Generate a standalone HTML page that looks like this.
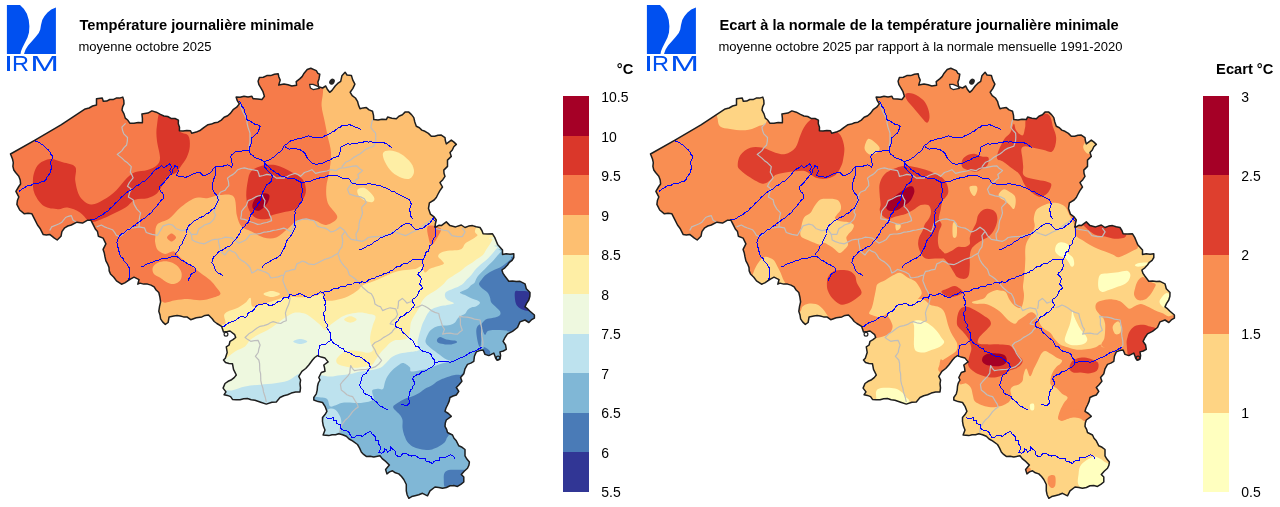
<!DOCTYPE html>
<html lang="fr"><head><meta charset="utf-8"><title>IRM - Température journalière minimale</title>
<style>
html,body{margin:0;padding:0;background:#fff;}
body{width:1280px;height:507px;overflow:hidden;font-family:"Liberation Sans",sans-serif;}
svg{display:block;font-family:"Liberation Sans",sans-serif;}
</style></head><body>
<svg width="1280" height="507" viewBox="0 0 1280 507">
<defs>
<path id="belo" d="M10.5,154.0 L35.0,140.2 L61.4,124.7 L85.2,108.9 L85.2,108.9 L89.1,108.0 L92.6,106.0 L96.5,105.1 L96.5,98.8 L102.3,98.1 L103.3,101.3 L106.7,101.1 L109.7,99.5 L113.1,99.6 L116.2,98.1 L119.6,98.1 L122.8,97.1 L123.8,100.4 L124.0,103.9 L122.6,106.9 L122.0,110.1 L124.0,113.9 L125.3,118.1 L127.9,120.3 L129.8,123.2 L134.0,123.3 L138.2,122.5 L142.4,122.7 L142.4,118.3 L141.9,113.9 L147.9,113.1 L151.9,110.9 L156.3,112.2 L160.4,114.4 L163.9,116.0 L167.7,116.5 L171.0,118.4 L175.0,118.5 L178.4,120.2 L178.3,123.7 L179.5,127.2 L179.4,130.7 L183.1,131.0 L186.8,130.5 L190.5,130.7 L191.7,133.2 L196.2,132.1 L200.5,130.2 L204.1,127.3 L208.0,124.7 L211.4,124.1 L214.6,122.7 L218.0,122.2 L221.3,120.1 L224.1,117.3 L227.7,115.7 L230.6,113.1 L233.1,109.7 L236.7,107.2 L239.3,103.9 L237.3,100.7 L236.1,97.1 L240.1,97.3 L244.0,96.3 L248.0,96.9 L251.9,96.3 L253.1,98.8 L257.5,98.9 L261.9,99.6 L264.4,96.3 L263.0,91.7 L260.7,87.6 L258.9,84.7 L258.1,81.3 L259.4,77.5 L263.3,77.2 L266.8,75.6 L270.7,75.6 L274.4,74.2 L278.2,73.8 L278.9,77.0 L280.2,80.1 L278.7,85.1 L284.0,84.0 L288.0,84.8 L291.8,86.0 L296.6,85.2 L296.2,81.7 L299.7,78.9 L302.1,76.6 L303.7,73.8 L307.2,69.5 L310.8,68.3 L316.3,70.6 L317.9,73.4 L319.8,74.2 L319.0,78.9 L317.9,82.1 L318.6,86.8 L322.6,88.0 L325.7,86.0 L327.3,89.2 L329.7,92.3 L332.0,90.4 L335.2,86.0 L337.7,83.4 L340.7,81.3 L341.9,75.8 L345.1,72.2 L347.0,75.0 L351.4,75.4 L352.7,79.9 L354.9,84.1 L352.9,88.4 L350.2,92.3 L352.2,95.6 L355.4,98.0 L357.5,101.3 L358.5,105.1 L360.0,108.8 L363.1,107.9 L366.3,107.6 L369.1,109.9 L372.5,111.3 L373.5,115.4 L373.8,119.6 L378.0,120.1 L382.1,119.2 L386.3,119.6 L387.6,117.1 L391.9,118.2 L396.3,118.8 L398.9,116.2 L402.4,114.7 L405.0,112.1 L408.8,112.1 L411.5,114.6 L413.8,117.6 L414.8,122.0 L416.3,126.3 L419.4,127.7 L421.8,130.1 L425.0,131.3 L428.4,133.4 L431.3,136.3 L434.7,136.2 L437.9,135.2 L441.3,135.1 L445.0,137.6 L445.4,140.8 L446.3,143.9 L451.3,140.1 L454.0,142.1 L456.3,144.4 L453.8,146.8 L452.3,150.0 L450.0,152.6 L451.3,156.4 L447.5,160.1 L447.5,166.4 L443.8,170.1 L444.0,173.3 L445.0,176.4 L442.8,179.7 L440.0,182.6 L442.5,187.0 L439.9,190.6 L437.8,194.5 L436.3,197.5 L434.1,200.0 L429.4,202.8 L428.5,208.4 L430.4,214.1 L434.1,216.9 L436.3,220.0 L435.4,223.7 L435.0,227.5 L438.8,225.3 L441.3,225.6 L446.3,221.9 L450.0,225.6 L455.6,226.9 L461.3,225.0 L465.0,227.5 L468.6,226.1 L472.5,225.6 L476.2,226.8 L480.0,227.5 L481.9,230.5 L483.1,233.8 L487.8,234.1 L492.5,233.8 L494.7,237.4 L496.3,241.3 L497.6,244.4 L499.8,246.9 L502.5,250.0 L502.5,254.4 L506.2,253.7 L510.1,254.3 L513.8,253.8 L513.8,257.5 L512.1,260.3 L509.4,262.3 L507.5,265.0 L504.9,267.8 L501.9,270.0 L503.0,273.4 L505.0,276.3 L508.8,281.3 L512.5,280.9 L516.3,281.6 L520.0,281.3 L525.0,283.8 L526.3,288.8 L530.0,292.5 L529.9,296.3 L528.8,300.0 L526.6,303.3 L525.0,306.9 L527.7,308.9 L530.0,311.3 L534.4,315.0 L534.4,318.1 L531.3,319.9 L528.8,322.5 L525.0,320.0 L520.0,321.9 L517.5,327.5 L512.5,331.3 L507.5,333.8 L505.0,337.5 L503.1,341.3 L505.6,345.0 L506.3,349.4 L503.3,351.0 L500.0,351.9 L500.6,355.6 L500.0,359.0 L497.0,360.2 L495.6,358.0 L495.0,356.3 L493.8,353.1 L488.8,355.6 L485.0,354.4 L483.1,350.0 L479.6,350.6 L476.3,351.9 L474.4,356.3 L473.8,361.3 L470.8,363.1 L467.5,364.4 L465.0,368.8 L463.8,373.8 L460.6,377.5 L461.9,381.3 L458.8,385.0 L456.3,387.5 L458.8,391.3 L456.3,395.0 L453.1,396.0 L450.0,397.5 L449.1,401.4 L447.5,405.0 L446.0,408.0 L445.0,411.3 L448.4,413.5 L451.3,416.3 L446.3,420.0 L445.3,423.1 L445.0,426.3 L446.6,429.3 L447.5,432.5 L452.5,435.0 L454.0,438.2 L456.3,440.8 L458.8,445.8 L462.1,447.3 L465.0,449.5 L465.0,455.8 L466.9,459.1 L469.4,462.0 L468.9,465.3 L467.5,468.3 L464.2,471.2 L461.3,474.5 L463.8,477.0 L463.8,482.0 L460.8,484.4 L457.5,486.4 L453.8,485.6 L450.0,485.8 L446.4,487.5 L442.5,488.3 L438.8,487.4 L435.0,487.0 L430.0,490.8 L427.5,495.8 L422.5,493.3 L418.8,494.8 L415.0,495.8 L411.7,496.6 L408.8,498.3 L407.1,494.7 L406.3,490.8 L406.3,484.5 L403.8,479.5 L401.5,476.5 L398.8,473.9 L395.4,472.8 L392.5,470.8 L389.5,471.9 L386.9,473.9 L385.6,469.5 L389.4,465.1 L385.0,460.8 L382.2,458.6 L380.0,455.8 L373.8,457.0 L370.1,456.3 L366.3,456.4 L363.6,454.4 L361.3,452.0 L359.6,448.1 L357.5,444.5 L352.5,440.8 L349.1,439.0 L346.3,436.3 L342.6,434.8 L338.8,433.8 L335.5,434.8 L332.1,434.7 L328.8,435.6 L323.1,435.0 L325.0,430.0 L323.3,425.8 L322.5,421.3 L322.5,417.5 L325.0,414.6 L326.9,411.3 L325.0,406.3 L322.5,402.5 L318.1,401.6 L313.8,400.0 L313.8,397.5 L316.3,393.8 L317.2,390.1 L317.5,386.3 L318.3,383.0 L320.0,380.0 L318.8,377.5 L321.3,372.5 L325.0,371.3 L324.6,368.1 L323.8,365.0 L328.1,361.9 L325.0,358.1 L321.2,357.1 L317.5,355.6 L314.7,357.5 L312.5,360.0 L308.8,365.0 L305.7,368.5 L301.9,371.3 L298.8,376.3 L300.6,380.0 L300.0,383.9 L300.5,387.9 L300.0,391.9 L295.6,392.0 L291.3,393.1 L287.6,394.8 L283.7,395.8 L280.0,397.5 L276.3,401.9 L271.9,402.2 L266.3,404.1 L260.7,402.2 L255.0,400.3 L251.2,399.7 L247.5,398.5 L243.7,398.8 L240.0,399.8 L236.2,399.8 L232.5,399.4 L230.6,396.6 L227.4,395.4 L224.1,394.7 L226.0,391.9 L223.1,388.1 L225.0,383.5 L228.1,381.3 L231.6,379.7 L234.2,377.6 L236.3,375.0 L233.5,369.4 L232.5,363.8 L229.0,363.4 L225.5,362.5 L223.5,360.0 L225.3,358.2 L227.2,352.5 L226.3,346.9 L229.1,345.0 L230.0,341.3 L233.0,339.7 L235.7,337.5 L234.7,334.7 L230.0,331.0 L227.5,331.5 L223.5,331.9 L221.6,326.3 L216.9,323.5 L214.2,321.5 L212.2,318.8 L208.5,315.0 L205.1,315.4 L201.9,316.9 L196.3,317.8 L190.7,319.7 L186.9,316.9 L183.5,316.9 L180.3,316.0 L177.1,315.6 L173.8,316.0 L169.1,316.9 L168.1,322.5 L165.3,324.4 L162.6,321.9 L160.6,318.8 L160.0,315.0 L158.8,311.3 L159.5,306.6 L160.6,301.9 L159.9,297.2 L158.8,292.5 L156.1,290.0 L154.1,286.9 L151.0,285.1 L147.5,284.1 L143.7,284.1 L140.0,283.1 L137.8,284.2 L139.0,279.7 L134.0,277.2 L130.8,278.9 L127.8,280.9 L124.8,282.9 L121.5,284.2 L116.5,280.9 L113.8,277.2 L110.5,274.0 L109.2,270.9 L109.0,267.5 L107.8,264.4 L105.9,260.8 L105.0,256.9 L104.3,253.1 L103.1,249.4 L105.9,243.8 L103.1,238.1 L98.4,236.3 L97.5,231.6 L95.3,229.0 L93.8,225.9 L91.0,220.3 L87.2,220.3 L82.5,223.1 L76.9,222.2 L71.3,225.0 L67.8,226.0 L64.7,227.8 L61.9,231.6 L61.0,236.3 L57.2,240.0 L54.4,238.1 L49.7,234.4 L46.4,234.9 L43.1,234.4 L40.3,228.8 L37.5,225.0 L34.7,219.4 L31.9,213.8 L28.1,213.3 L24.4,213.8 L19.7,210.0 L16.9,204.4 L17.4,200.5 L18.8,196.9 L15.9,191.3 L18.8,186.5 L20.6,184.0 L20.2,180.0 L18.8,176.3 L15.6,172.5 L13.8,170.0 L12.9,166.4 L13.3,162.6 L12.5,159.0Z"/>
<clipPath id="bel"><use href="#belo"/></clipPath>
<g id="lines">
<path d="M125.6,123.4 L121.9,127.2 L122.6,130.6 L123.8,133.8 L127.5,137.5 L127.3,141.3 L126.6,145.0 L124.0,147.6 L121.9,150.6 L119.7,152.6 L117.2,154.4 L121.9,158.1 L124.5,160.7 L127.5,162.8 L131.3,166.6 L130.3,172.2 L131.9,174.9 L133.1,177.8 L129.4,182.5 L127.5,186.3 L131.3,189.1 L129.4,193.1 L128.4,196.9 L133.1,199.7 L134.1,204.4 L136.9,209.1 L140.6,212.8 L139.7,216.6 L139.2,220.0 L139.4,223.5 L138.8,226.9" fill="none" stroke="#bebebe" stroke-width="1.2" stroke-linejoin="round"/>
<path d="M49.7,230.6 L51.6,226.9 L56.3,225.0 L59.2,223.8 L61.9,222.2 L65.6,217.5 L68.4,216.3 L71.3,215.6 L73.1,220.3 L76.9,222.2" fill="none" stroke="#bebebe" stroke-width="1.2" stroke-linejoin="round"/>
<path d="M96.6,226.9 L101.3,225.0 L104.0,226.6 L106.9,227.8 L112.5,229.7 L114.6,232.4 L116.3,235.3 L120.0,236.3 L123.0,234.2 L125.6,231.6 L128.3,229.5 L131.3,227.8 L135.1,227.7 L138.8,226.9 L144.4,227.8 L146.3,232.5 L151.9,234.4 L157.5,235.3 L160.3,230.6 L163.1,225.9 L168.8,224.1 L172.5,225.0 L176.3,228.8 L181.9,230.6 L187.5,229.7 L189.6,231.9 L191.3,234.4 L196.9,234.4 L198.8,228.8 L201.7,227.1 L204.4,225.0 L210.0,223.1 L213.8,219.4 L215.6,214.7 L213.8,211.9" fill="none" stroke="#bebebe" stroke-width="1.2" stroke-linejoin="round"/>
<path d="M191.3,234.4 L192.2,240.0 L195.4,241.6 L198.8,242.8 L204.4,243.8 L208.1,241.9 L211.9,240.0 L215.1,239.3 L218.4,239.1 L221.8,238.5 L225.0,237.2 L228.8,237.5 L232.5,238.1 L235.0,240.3 L238.8,243.1 L242.7,241.5 L246.3,239.4 L250.0,234.7 L253.7,234.0 L257.5,233.8 L260.7,233.4 L263.7,232.2 L266.9,231.9 L270.1,231.4 L273.1,230.4 L276.3,230.0 L280.1,229.2 L283.8,228.1 L287.6,229.8 L291.3,231.9 L293.0,227.7 L294.1,223.4 L298.8,220.6 L302.5,219.3 L306.3,218.8 L310.0,219.9 L313.8,220.6 L315.8,223.3 L317.5,226.3 L321.2,227.5 L325.0,228.1 L328.0,229.7 L330.6,231.9 L333.6,231.3 L336.3,230.0 L340.0,227.2 L343.8,230.0 L345.9,232.6 L347.5,235.6 L351.3,239.4 L356.9,240.3 L362.5,241.3 L365.5,239.7 L368.1,237.5 L371.8,236.9 L375.6,236.6 L379.4,236.5 L383.1,235.6 L388.8,234.7 L391.5,232.6 L394.4,231.0 L397.1,232.6 L400.0,233.8 L405.6,235.6 L409.4,233.8 L412.1,232.2 L415.0,231.0 L418.9,228.9 L422.5,226.3 L425.1,224.1 L428.1,222.5 L431.9,218.8" fill="none" stroke="#bebebe" stroke-width="1.2" stroke-linejoin="round"/>
<path d="M218.4,239.1 L218.6,242.4 L219.4,245.6 L220.3,251.3 L225.0,255.0 L227.0,252.2 L229.4,249.7 L232.1,251.4 L235.0,252.5 L237.1,255.2 L238.8,258.1 L241.4,260.3 L244.4,261.9 L247.4,264.5 L250.0,267.5 L251.9,273.1 L254.8,271.4 L257.5,269.4 L263.1,271.3 L266.1,272.4 L268.8,274.1 L270.6,277.8 L274.4,277.5 L278.1,276.9 L280.9,275.7 L283.8,275.0 L285.6,271.3 L288.8,270.9 L291.8,269.8 L295.0,269.4 L296.9,263.8 L299.8,262.6 L302.5,261.0 L305.5,262.1 L308.1,263.8 L313.8,264.7 L317.6,263.0 L321.3,261.0 L325.0,259.3 L328.8,258.1 L331.7,257.0 L334.4,255.3 L338.1,253.4 L339.6,249.9 L341.9,246.9 L342.8,241.3 L341.9,235.6 L344.7,231.9" fill="none" stroke="#bebebe" stroke-width="1.2" stroke-linejoin="round"/>
<path d="M213.8,211.9 L215.1,209.0 L215.7,205.9 L217.0,203.0 L218.0,199.5 L218.4,195.9 L220.3,192.2 L225.0,190.3 L226.8,187.8 L228.8,185.6 L228.5,181.8 L227.5,178.1 L230.2,176.0 L233.1,174.4 L235.6,172.2 L237.8,169.7 L241.0,168.5 L244.4,167.8 L248.1,168.9 L251.9,169.7 L257.5,170.6 L258.7,173.4 L259.4,176.3 L263.2,175.5 L266.9,174.4 L272.5,175.3 L276.3,178.1 L280.1,177.9 L283.8,178.1 L286.7,176.9 L289.4,175.3 L295.0,173.4 L298.0,174.5 L300.6,176.3 L304.4,172.5 L308.2,171.3 L311.9,169.7 L315.6,173.4 L319.3,172.3 L323.1,171.6 L326.9,171.0 L330.6,169.7 L336.3,170.6 L338.9,168.8 L341.9,167.8 L345.7,167.7 L349.4,166.9 L353.1,166.1 L356.9,165.9 L359.4,168.6 L362.5,170.6 L360.3,172.6 L357.8,174.4 L358.8,178.1 L356.1,179.7 L353.9,182.1 L351.3,183.8 L349.2,186.5 L347.5,189.4 L349.4,194.1 L355.0,195.9 L360.6,196.9 L364.4,198.8 L366.3,202.5 L362.5,206.3 L361.6,207.5 L362.5,213.1 L361.3,216.9 L359.7,220.6 L359.0,224.3 L358.8,228.1 L357.7,231.1 L356.0,233.8 L356.2,237.1 L356.9,240.3" fill="none" stroke="#bebebe" stroke-width="1.2" stroke-linejoin="round"/>
<path d="M240.0,104.0 L241.3,108.1 L243.0,112.0 L245.1,115.9 L246.9,120.0 L247.2,123.8 L248.1,127.5 L250.0,133.1 L250.0,138.8 L249.9,142.5 L249.1,146.2 L249.1,150.0" fill="none" stroke="#bebebe" stroke-width="1.2" stroke-linejoin="round"/>
<path d="M373.0,119.5 L371.9,122.0 L370.9,127.5 L373.1,130.5 L375.6,133.1 L375.8,136.8 L375.6,140.6 L373.8,146.3 L368.1,148.1 L365.1,149.7 L362.5,151.9 L359.8,153.9 L356.9,155.6 L353.9,157.2 L351.3,159.4 L348.6,161.0 L345.6,162.2 L341.9,166.9" fill="none" stroke="#bebebe" stroke-width="1.2" stroke-linejoin="round"/>
<path d="M240.6,218.8 L241.4,215.1 L241.6,211.3 L243.8,208.3 L246.3,205.6 L248.1,200.6 L252.0,199.0 L255.6,196.9 L258.8,195.8 L262.2,195.0 L263.3,197.9 L265.0,200.6 L264.1,206.3 L266.7,208.9 L268.8,211.9 L269.6,214.9 L271.0,217.6 L271.6,220.6 L266.9,222.5 L263.7,223.0 L260.7,224.0 L257.5,224.4 L254.4,223.0 L251.2,222.0 L248.1,220.6 L244.4,219.4 L240.6,218.8" fill="none" stroke="#bebebe" stroke-width="1.2" stroke-linejoin="round"/>
<path d="M283.8,275.0 L282.8,280.6 L284.5,285.0 L286.1,288.9 L288.2,292.5 L290.1,298.1 L289.4,301.9 L288.2,305.6 L286.5,309.3 L285.4,313.2 L286.0,316.9 L286.3,320.7 L283.4,321.8 L280.7,323.5 L276.9,322.8 L273.2,321.6 L270.3,322.8 L267.6,324.4 L263.9,325.6 L260.1,326.3 L257.1,328.0 L254.4,330.0 L251.8,332.1 L248.8,333.8 L245.1,337.5 L247.8,339.6 L250.7,341.3 L254.4,340.7 L258.2,340.4 L260.1,345.0 L258.9,348.7 L258.2,352.5 L255.4,356.3 L258.8,360.0 L259.6,363.7 L259.7,367.5 L259.8,370.7 L260.6,373.7 L260.7,376.9 L260.8,380.7 L261.6,384.4 L262.9,388.1 L263.5,391.9 L265.3,397.5 L266.3,402.2" fill="none" stroke="#bebebe" stroke-width="1.2" stroke-linejoin="round"/>
<path d="M338.1,254.4 L340.0,260.0 L341.7,262.9 L343.8,265.6 L347.5,269.4 L349.4,275.0 L352.3,276.7 L355.0,278.8 L358.8,282.5 L362.5,287.2 L365.7,290.0 L368.3,292.2 L371.3,293.8 L372.9,296.5 L374.1,299.4 L375.0,304.1 L377.7,305.8 L380.7,306.9 L382.6,310.6 L386.3,309.0 L390.1,307.8 L395.7,308.8 L397.6,314.4 L395.7,318.1 L391.9,321.0 L390.1,323.8 L393.8,324.7" fill="none" stroke="#bebebe" stroke-width="1.2" stroke-linejoin="round"/>
<path d="M397.6,308.8 L398.3,305.1 L398.5,301.3 L402.3,298.4 L404.8,300.6 L406.9,303.1 L409.9,302.0 L412.6,300.3" fill="none" stroke="#bebebe" stroke-width="1.2" stroke-linejoin="round"/>
<path d="M415.4,307.8 L418.8,306.6 L422.0,305.0 L424.9,306.2 L427.6,307.8 L431.3,310.6 L434.9,312.4 L438.8,313.5 L439.8,318.1 L440.9,320.9 L441.7,323.8 L442.8,326.7 L444.5,329.4 L442.6,334.1 L446.3,333.4 L450.1,333.2 L453.8,333.8 L457.6,334.1 L459.8,332.0 L462.3,330.3 L460.4,324.7 L460.4,319.1 L459.5,316.3 L463.2,316.9 L467.0,317.2 L470.8,317.9 L474.5,319.1 L480.1,320.0 L480.7,323.8 L481.6,327.5 L481.9,330.6 L481.6,333.8 L482.0,336.9 L482.8,341.1 L482.9,345.3 L480.1,348.2" fill="none" stroke="#bebebe" stroke-width="1.2" stroke-linejoin="round"/>
<path d="M395.7,327.5 L393.6,329.7 L391.9,332.2 L389.2,334.3 L386.3,336.0 L383.3,337.6 L380.7,339.7 L377.9,341.3 L375.0,342.5 L372.2,345.3 L375.0,350.0 L376.2,353.0 L377.9,355.7 L381.6,360.3 L378.8,364.1 L375.0,366.9 L369.4,368.8 L365.7,369.5 L361.9,369.7 L358.1,370.0 L354.4,370.7 L352.3,368.3 L350.7,365.6 L350.1,369.3 L349.8,373.1 L347.7,376.1 L345.1,378.8 L342.6,381.5 L340.4,384.4 L341.3,390.0 L344.2,392.2 L346.9,394.7 L349.7,395.9 L352.6,396.6 L355.4,401.3 L357.1,403.9 L358.2,406.9 L355.3,409.1 L352.6,411.6 L350.5,414.7 L348.1,417.6 L345.6,419.7 L343.5,422.3 L340.6,427.0 L339.7,432.6" fill="none" stroke="#bebebe" stroke-width="1.2" stroke-linejoin="round"/>
<path d="M435.0,228.1 L438.7,229.3 L442.6,230.0 L448.2,231.0 L451.9,235.6 L457.6,236.6 L462.3,236.6 L465.1,231.9 L462.3,228.1" fill="none" stroke="#bebebe" stroke-width="1.2" stroke-linejoin="round"/>
<path d="M34.7,140.3 L36.6,141.8 L39.1,142.3 L40.9,144.1 L43.1,145.0 L44.9,146.5 L46.2,148.5 L48.2,149.8 L49.7,151.6 L50.8,154.1 L52.5,156.3 L52.1,158.9 L51.0,161.2 L50.6,163.8 L51.4,166.1 L51.6,168.5 L50.3,170.5 L50.0,173.0 L48.8,175.0 L47.0,177.1 L46.0,179.6 L44.1,181.6 L41.2,181.9 L38.5,183.1 L35.6,183.5 L33.2,183.8 L31.1,185.3 L28.5,185.2 L26.3,186.3 L24.6,187.9 L22.4,188.6 L20.9,190.3 L18.8,191.3" fill="none" stroke="#0000ff" stroke-width="1" shape-rendering="crispEdges"/>
<path d="M87.2,220.3 L89.4,220.2 L91.5,219.3 L93.8,219.4 L96.5,218.5 L98.7,216.7 L101.3,215.6 L103.4,214.4 L104.9,212.6 L107.1,211.7 L108.8,210.0 L110.4,207.9 L112.7,206.4 L114.4,204.4 L116.1,202.4 L118.4,200.9 L120.0,198.8 L121.7,196.7 L124.0,195.3 L125.6,193.1 L128.4,191.4 L131.3,190.0 L133.3,188.8 L135.0,187.2 L136.7,185.6 L138.9,184.9 L140.6,183.4 L142.3,181.8 L144.6,181.3 L146.3,179.7 L148.0,177.7 L150.0,175.9 L151.5,174.2 L152.8,172.2 L155.6,169.4 L159.4,167.5 L161.3,165.6 L164.1,167.9 L166.9,165.6 L169.7,163.8 L171.6,166.6 L169.7,170.3 L171.6,174.1" fill="none" stroke="#0000ff" stroke-width="1" shape-rendering="crispEdges"/>
<path d="M127.6,281.0 L129.2,278.2 L130.0,275.0 L129.4,272.7 L129.8,270.4 L129.4,268.1 L128.0,266.3 L127.2,264.2 L125.6,262.5 L123.9,260.8 L123.1,258.5 L121.2,257.0 L120.0,255.0 L119.6,252.6 L118.3,250.4 L118.2,247.9 L117.2,245.6 L117.0,242.8 L117.2,240.0 L118.8,237.8 L120.0,235.3 L121.7,233.8 L123.9,233.1 L125.6,231.6 L127.3,230.0 L129.6,229.4 L131.3,227.8 L133.0,226.2 L135.2,225.2 L136.8,223.4 L138.8,222.2 L140.8,220.9 L142.4,219.3 L144.6,218.2 L146.3,216.6 L148.0,214.8 L150.2,213.7 L151.9,211.9 L153.4,209.3 L155.6,207.2 L157.7,205.0 L159.4,202.5 L161.0,200.4 L163.1,198.8 L164.1,195.0 L162.4,193.0 L160.3,191.3 L159.7,189.0 L159.4,186.6 L161.9,184.7 L164.1,182.5 L165.3,180.5 L166.9,178.8 L168.5,177.1 L169.7,175.0 L171.6,174.1" fill="none" stroke="#0000ff" stroke-width="1" shape-rendering="crispEdges"/>
<path d="M171.6,174.1 L172.5,172.0 L172.7,169.8 L174.0,167.8 L174.4,165.6 L177.2,166.6 L178.0,169.3 L178.1,172.2 L176.3,175.0 L178.5,176.3 L181.0,176.9 L183.3,176.9 L185.6,177.3 L188.5,176.3 L191.3,175.0 L193.5,173.7 L195.9,173.1 L199.7,172.2 L202.5,175.0 L206.3,175.0 L210.0,173.1 L211.6,171.4 L212.8,169.4 L215.6,166.6 L217.9,166.1 L220.3,166.0 L222.7,166.2 L225.0,165.6 L227.8,164.7 L229.9,165.9 L231.6,167.5 L232.3,165.4 L232.2,163.1 L231.3,161.0 L231.3,158.7 L230.3,156.6 L231.7,154.9 L233.7,153.7 L235.0,151.9 L237.4,151.2 L240.0,151.5 L242.5,150.9 L244.7,150.2 L246.9,150.6 L249.1,150.0 L249.8,147.1 L250.9,144.4 L251.6,142.3 L251.3,140.0 L251.9,137.8 L253.9,136.4 L255.5,134.5 L257.5,133.1 L258.8,131.1 L259.1,128.7 L260.3,126.6 L258.0,125.0 L255.1,124.4 L252.8,122.8 L250.2,121.1 L247.2,120.0 L246.1,117.6 L246.1,115.0 L244.7,112.7 L244.4,110.1 L243.4,107.8 L241.5,106.0 L240.9,103.4 L239.3,101.4" fill="none" stroke="#0000ff" stroke-width="1" shape-rendering="crispEdges"/>
<path d="M215.6,167.5 L215.4,169.8 L215.6,172.2 L215.3,174.6 L214.7,176.9 L213.5,179.6 L212.8,182.5 L212.6,185.3 L211.9,188.1 L213.8,191.3 L214.9,193.3 L216.5,194.9 L217.5,196.9 L218.4,200.6 L216.6,203.3 L215.6,206.3 L214.0,208.4 L211.6,209.8 L210.0,211.9 L208.2,213.3 L206.1,214.0 L204.5,215.6 L202.5,216.6 L199.9,217.6 L197.6,219.2 L195.0,220.3 L193.0,221.7 L191.5,223.7 L189.4,225.0 L187.7,227.6 L186.6,230.6 L186.5,233.5 L185.6,236.3 L183.9,238.9 L182.8,241.9 L181.8,244.2 L180.1,246.1 L179.1,248.4 L178.1,250.8 L176.3,252.6 L175.3,255.0" fill="none" stroke="#0000ff" stroke-width="1" shape-rendering="crispEdges"/>
<path d="M140.6,267.2 L143.6,266.1 L146.3,264.4 L148.7,263.1 L151.4,262.9 L153.8,261.6 L156.2,260.3 L158.9,260.1 L161.3,258.8 L163.7,258.1 L166.3,258.3 L168.8,257.8 L170.9,256.9 L173.2,257.0 L175.3,256.0 L177.8,257.1 L180.0,258.8 L181.6,260.4 L183.8,261.1 L185.6,262.5 L188.3,264.2 L191.3,265.3 L193.7,267.0 L195.9,269.0 L195.0,271.9 L192.7,273.0 L190.7,274.7 L190.0,277.0 L188.6,279.0 L187.8,281.3" fill="none" stroke="#0000ff" stroke-width="1" shape-rendering="crispEdges"/>
<path d="M249.1,150.0 L249.7,152.5 L251.0,154.7 L253.1,155.6 L254.6,157.4 L256.6,158.4 L259.5,159.1 L262.2,160.3 L265.0,162.2 L264.4,164.5 L264.1,166.9 L265.9,168.2 L267.0,170.2 L268.8,171.6 L270.9,173.7 L272.5,176.3 L271.8,178.5 L271.6,180.9 L269.5,183.1 L266.9,184.7 L265.4,186.8 L264.7,189.3 L263.1,191.3 L261.9,194.0 L261.3,196.9 L260.3,200.0 L259.4,202.0 L257.7,203.6 L257.1,205.8 L255.6,207.5 L254.0,209.7 L253.1,212.4 L251.1,214.4 L250.0,216.9 L249.3,219.8 L248.1,222.5 L246.0,224.1 L244.6,226.5 L242.5,228.1 L240.9,230.1 L240.3,232.6 L238.8,234.7 L237.4,236.5 L236.6,238.6 L235.0,240.3 L232.9,242.4 L231.3,245.0 L229.3,246.4 L227.0,247.1 L225.0,248.4 L222.9,249.9 L220.4,250.6 L218.4,252.2 L216.3,254.7 L213.8,256.9 L212.5,259.6 L211.9,262.5 L213.6,265.2 L214.7,268.1 L215.9,270.6 L217.5,272.8 L220.2,273.9 L222.5,275.6" fill="none" stroke="#0000ff" stroke-width="1" shape-rendering="crispEdges"/>
<path d="M265.0,161.3 L267.9,160.6 L270.6,159.4 L272.4,157.7 L274.6,156.5 L276.3,154.7 L278.0,153.0 L280.2,151.8 L281.9,150.0 L283.1,147.5 L284.7,145.3 L287.0,143.9 L288.9,141.9 L291.3,140.6 L293.8,140.2 L296.2,139.1 L298.8,138.8 L301.2,138.3 L303.4,137.2 L305.9,136.9 L308.1,135.9 L310.7,136.2 L313.0,137.4 L315.6,137.8 L318.1,137.3 L320.6,137.5 L323.1,136.9 L325.4,135.3 L328.2,134.6 L330.6,133.1 L332.4,131.6 L334.6,131.0 L336.3,129.4 L338.1,128.0 L340.2,127.2 L341.9,125.6 L344.4,125.1 L346.9,125.2 L349.4,124.7 L352.0,125.4 L354.3,126.8 L356.9,127.5 L359.4,128.6 L361.6,130.3" fill="none" stroke="#0000ff" stroke-width="1" shape-rendering="crispEdges"/>
<path d="M284.7,146.3 L286.9,147.9 L289.4,149.1 L292.1,148.2 L295.0,148.1 L297.7,149.2 L300.6,150.0 L303.2,151.6 L305.3,153.8 L306.5,156.7 L308.1,159.4 L310.2,161.1 L311.9,163.1 L314.6,164.0 L317.5,164.1 L319.9,163.2 L322.6,163.2 L325.0,162.2 L327.4,160.7 L330.1,159.9 L332.5,158.4 L335.2,157.2 L338.1,156.6 L339.3,154.3 L340.0,151.9 L340.1,149.5 L340.9,147.2 L343.4,146.0 L345.6,144.4 L347.9,143.9 L350.3,144.1 L352.6,143.4 L355.0,143.4 L357.3,143.3 L359.5,142.3 L361.8,142.6 L364.0,141.8 L366.3,141.6 L368.6,142.1 L371.0,141.6 L373.3,142.5 L375.6,142.5 L378.1,142.2 L380.6,142.8 L383.1,142.5 L386.1,143.6 L388.8,145.3 L390.5,146.9 L392.5,148.1" fill="none" stroke="#0000ff" stroke-width="1" shape-rendering="crispEdges"/>
<path d="M265.0,163.1 L266.7,165.2 L268.9,166.7 L270.5,168.9 L272.5,170.6 L274.6,171.4 L276.2,173.1 L278.3,173.9 L280.0,175.3 L282.4,176.6 L285.1,177.0 L287.5,178.1 L290.0,178.7 L292.5,178.4 L295.0,179.1 L297.7,180.7 L300.6,181.9 L301.5,184.3 L301.5,187.0 L302.5,189.4 L302.5,191.9 L301.5,194.4 L301.6,196.9 L302.5,200.0 L301.4,202.0 L299.8,203.6 L298.8,205.6 L297.7,207.6 L296.0,209.2 L295.0,211.3 L295.1,213.8 L294.1,216.3 L294.1,218.8 L294.7,221.1 L294.3,223.5 L295.1,225.7 L295.0,228.1 L293.4,230.9 L292.2,233.8 L290.5,236.3 L288.4,238.4 L286.7,241.1 L285.6,244.1 L285.0,246.6 L283.8,248.8 L282.2,251.5 L281.0,254.4 L278.8,256.4 L276.3,258.1 L273.3,259.3 L270.6,261.0 L267.9,262.6 L265.0,263.8 L263.4,265.5 L262.2,267.5" fill="none" stroke="#0000ff" stroke-width="1" shape-rendering="crispEdges"/>
<path d="M300.6,182.8 L303.1,182.8 L305.6,181.9 L308.1,181.9 L310.7,181.3 L313.0,179.8 L315.6,179.1 L318.2,178.8 L320.5,177.5 L323.1,177.2 L325.7,176.9 L328.0,175.7 L330.6,175.3 L333.5,175.6 L336.3,175.3 L339.2,176.5 L341.9,178.1 L344.4,178.7 L347.0,178.4 L349.4,179.1 L350.9,181.7 L353.1,183.8 L355.6,183.9 L358.1,184.8 L360.6,184.7 L362.9,184.2 L365.3,184.5 L367.6,183.8 L370.0,183.8 L372.3,184.6 L374.8,184.4 L377.0,185.5 L379.4,185.6 L381.9,186.2 L384.0,187.7 L386.6,188.1 L388.8,189.4 L391.1,191.0 L394.0,191.5 L396.3,193.1 L398.7,194.7 L401.4,195.5 L403.8,196.9 L406.5,198.5 L409.4,199.7 L410.5,202.0 L411.3,204.4 L410.1,207.2 L409.7,210.3 L410.4,213.1 L410.7,215.9 L412.5,218.8" fill="none" stroke="#0000ff" stroke-width="1" shape-rendering="crispEdges"/>
<path d="M358.8,249.7 L361.7,249.0 L364.4,247.8 L367.1,246.1 L370.0,245.0 L372.1,244.1 L373.6,242.3 L375.6,241.3 L377.7,240.3 L379.2,238.5 L381.3,237.5 L383.9,236.8 L386.2,235.4 L388.8,234.7 L391.7,233.6 L394.4,231.9 L396.0,230.1 L398.3,228.9 L400.0,227.2 L401.7,225.7 L403.8,224.8 L405.6,223.4 L409.4,223.4 L411.5,225.0 L413.1,227.2 L414.8,228.9 L416.9,230.0 L419.6,228.9 L422.5,228.1 L424.6,227.2 L426.0,225.3 L428.1,224.4 L430.2,222.7 L431.9,220.6 L433.8,216.9" fill="none" stroke="#0000ff" stroke-width="1" shape-rendering="crispEdges"/>
<path d="M433.8,216.9 L433.8,219.5 L435.7,221.7 L435.6,224.4 L434.9,226.8 L436.0,229.1 L435.2,231.5 L435.6,233.8 L435.2,236.5 L433.3,238.6 L432.8,241.3 L432.2,244.1 L429.7,246.0 L429.1,248.8 L428.4,251.0 L426.1,252.2 L425.3,254.4 L424.5,257.5 L422.5,260.0 L420.1,259.3 L417.4,260.0 L415.0,259.1 L412.0,260.1 L409.4,261.9 L407.2,263.6 L404.3,263.4 L401.9,264.7 L399.7,266.6 L396.7,266.8 L394.4,268.4 L392.9,270.2 L390.4,270.3 L389.1,272.4 L386.9,273.1 L384.1,273.3 L382.0,275.3 L379.4,275.9 L376.8,276.5 L374.7,278.6 L371.9,278.8 L369.1,279.5 L367.1,281.6 L364.4,282.5 L362.2,281.6 L359.8,283.1 L357.6,282.2 L355.0,282.4 L352.7,284.0 L350.1,284.1 L347.5,284.6 L345.3,286.4 L342.6,286.9 L339.9,286.9 L337.7,288.6 L335.1,288.8 L332.4,289.1 L330.2,291.0 L327.6,291.6 L325.2,291.6 L322.9,292.5 L324.3,294.8 L323.6,297.6 L324.8,300.0 L325.7,302.4 L324.8,305.1 L325.7,307.5 L325.6,310.1 L323.9,312.4 L323.8,315.0 L324.8,317.4 L324.4,320.2 L325.7,322.5 L327.4,324.7 L326.8,327.8 L328.5,330.0 L330.1,332.6 L330.4,335.7 L330.4,338.2 L331.4,340.4 L327.6,342.2 L326.0,344.0 L323.8,345.0 L321.4,344.8 L319.2,346.0 L319.4,348.5 L318.2,350.7 L318.1,353.7 L318.8,356.6" fill="none" stroke="#0000ff" stroke-width="1" shape-rendering="crispEdges"/>
<path d="M422.5,260.0 L422.5,262.9 L423.4,265.6 L422.5,268.7 L420.6,271.3 L418.7,272.8 L417.8,275.0 L420.2,276.4 L421.6,278.8 L420.3,281.5 L419.7,284.4 L421.4,286.0 L422.5,288.1 L420.1,290.0 L418.4,292.6 L417.3,295.6 L415.2,297.8 L412.6,299.4 L412.9,302.4 L414.4,305.0 L413.5,307.1 L411.5,308.4 L410.7,310.6 L409.1,312.2 L406.7,312.8 L405.1,314.4 L403.5,316.0 L400.9,316.3 L399.4,318.1 L398.0,320.8 L395.7,322.8 L395.7,326.6 L398.4,327.8 L401.3,328.5 L402.3,332.2 L404.9,333.8 L406.9,336.0 L409.0,338.1 L411.6,339.7 L413.6,341.7 L414.4,344.4 L415.9,346.5 L418.6,347.0 L420.1,349.1 L422.6,351.1 L425.7,351.9 L428.8,352.8 L431.3,354.7 L432.1,357.4 L434.1,359.4 L435.1,362.2 L433.8,365.2 L431.4,367.5 L428.7,368.4 L426.7,370.6 L423.9,371.3 L421.2,372.1 L419.2,374.3 L416.4,375.0 L414.1,376.5 L412.6,378.8 L414.0,381.4 L414.5,384.4 L412.9,386.0 L412.4,388.4 L410.7,390.0 L409.7,392.1 L409.8,394.5 L408.8,396.6 L408.7,399.5 L409.8,402.2 L408.3,404.5 L406.0,406.0 L403.8,404.8 L401.3,405.0" fill="none" stroke="#0000ff" stroke-width="1" shape-rendering="crispEdges"/>
<path d="M435.1,362.2 L437.6,362.1 L440.1,361.3 L442.6,361.3 L445.1,361.9 L447.6,361.5 L450.1,362.2 L453.0,361.5 L455.7,360.3 L458.4,358.7 L461.4,357.5 L464.4,356.4 L467.0,354.7 L469.6,353.0 L472.6,351.9 L475.5,350.7 L478.2,349.1 L482.0,347.2" fill="none" stroke="#0000ff" stroke-width="1" shape-rendering="crispEdges"/>
<path d="M221.6,326.3 L224.3,326.1 L226.3,324.4 L228.9,322.7 L231.9,321.6 L235.1,320.8 L237.6,318.8 L239.7,317.0 L242.3,316.0 L244.4,317.3 L246.9,316.9 L247.5,314.4 L248.8,312.2 L251.9,311.5 L254.4,309.4 L255.8,306.6 L258.2,304.7 L261.1,305.0 L263.8,303.8 L266.9,303.9 L269.5,305.6 L272.4,305.1 L275.1,303.8 L277.7,301.9 L280.7,301.0 L282.7,299.5 L283.5,297.2 L285.9,297.2 L288.2,298.1 L290.1,294.4 L292.8,295.3 L295.7,295.3 L299.5,293.5 L302.5,294.5 L305.1,296.3 L307.8,297.5 L310.7,297.2 L313.2,295.1 L316.4,294.4 L318.7,293.6 L320.1,291.6 L322.9,292.5" fill="none" stroke="#0000ff" stroke-width="1" shape-rendering="crispEdges"/>
<path d="M331.4,340.4 L333.2,342.7 L335.6,344.4 L337.8,345.2 L339.1,347.3 L341.3,348.2 L343.4,349.0 L344.8,351.1 L346.9,351.9 L350.0,352.8 L352.5,354.7 L355.2,356.0 L358.2,356.6 L361.3,357.5 L363.8,359.4 L365.5,361.2 L367.8,362.2 L369.4,364.1 L370.4,367.9 L368.7,369.3 L367.6,371.3 L366.0,373.4 L363.4,374.6 L362.0,376.9 L361.5,379.8 L360.1,382.5 L359.9,385.4 L361.0,388.1 L363.0,390.1 L363.8,392.8 L366.5,394.6 L369.5,395.6 L371.5,396.7 L372.2,399.2 L374.2,400.3 L376.9,402.2 L378.8,405.0 L380.5,406.5 L382.9,407.1 L384.5,408.8 L388.2,409.2" fill="none" stroke="#0000ff" stroke-width="1" shape-rendering="crispEdges"/>
<path d="M325.6,417.6 L329.4,418.6 L333.1,417.6 L333.4,420.1 L336.8,420.6 L336.9,423.3 L340.6,425.1 L340.1,428.0 L342.5,429.8 L346.3,430.8 L348.8,432.0 L350.0,434.5 L351.7,437.1 L354.7,437.3 L356.6,435.2 L359.4,435.5 L362.4,436.2 L365.0,434.5 L367.5,432.4 L370.7,431.7 L372.1,434.1 L374.4,435.5 L375.9,437.6 L375.4,440.1 L379.1,441.1 L378.2,443.7 L380.0,445.8 L380.4,449.2 L379.1,452.3 L381.9,453.3 L384.3,451.5 L384.7,448.6 L386.8,449.9 L387.5,452.3 L390.2,450.2 L390.4,446.7 L393.2,449.5 L395.5,451.3 L395.0,454.2 L397.5,456.1 L400.7,456.1 L402.8,453.3 L406.3,453.3 L408.8,455.3 L411.9,456.1 L415.0,455.2 L417.6,457.0 L420.1,458.9 L423.2,458.0 L425.5,458.6 L426.2,461.5 L428.8,461.7 L432.6,463.6 L433.8,461.3 L436.3,460.8 L439.0,460.8 L439.6,457.6 L442.0,457.0 L445.0,457.7 L447.6,456.1 L450.4,454.6 L453.2,456.1 L455.1,458.9" fill="none" stroke="#0000ff" stroke-width="1" shape-rendering="crispEdges"/>
</g>
</defs>
<rect width="1280" height="507" fill="#fff"/>
<g transform="translate(0,0)">
<g clip-path="url(#bel)">
<rect x="0" y="60" width="560" height="447" fill="#fdbf71"/>
<path d="M323.1,60.0C335.3,66.7 323.4,82.4 323.1,90.0C322.9,97.6 321.3,100.5 321.6,105.7C321.9,110.9 323.7,116.2 324.7,121.4C325.7,126.6 326.8,131.9 327.8,137.1C328.9,142.3 330.7,146.9 331.0,152.7C331.3,158.4 330.2,165.8 329.4,171.6C328.6,177.4 326.6,182.1 326.3,187.3C326.0,192.5 326.0,197.9 327.8,202.9C329.6,207.9 337.6,213.4 337.3,217.1C337.1,220.8 330.2,224.4 326.3,224.9C322.4,225.4 318.4,221.0 313.7,220.2C309.0,219.4 302.2,218.9 298.0,220.2C293.8,221.5 292.2,225.1 288.6,228.0C285.0,230.9 280.3,235.9 276.1,237.5C271.9,239.1 267.7,238.6 263.5,237.5C259.3,236.4 254.7,233.0 251.0,231.2C247.3,229.4 243.9,229.1 241.6,226.5C239.2,223.9 238.2,220.5 236.9,215.5C235.6,210.5 236.6,200.1 233.7,196.7C230.8,193.3 224.0,194.8 219.6,195.1C215.2,195.3 211.3,197.7 207.1,198.2C202.9,198.7 198.9,196.6 194.5,198.2C190.1,199.8 184.6,204.2 180.4,207.6C176.2,211.0 173.3,215.7 169.4,218.6C165.5,221.5 159.2,221.8 156.9,224.9C154.6,228.1 155.6,234.6 155.3,237.5C155.0,240.4 154.8,240.5 155.2,242.6C155.6,244.7 156.0,248.2 157.7,250.1C159.4,252.0 162.5,253.7 165.2,253.9C167.9,254.1 171.5,250.8 174.0,251.4C176.5,252.0 177.6,255.3 180.3,257.6C183.0,259.9 187.0,262.7 190.3,265.2C193.6,267.7 197.0,270.2 200.3,272.7C203.6,275.2 207.6,277.7 210.3,280.2C213.0,282.7 214.9,285.4 216.6,287.7C218.3,290.0 221.0,292.3 220.4,294.0C219.8,295.7 216.2,296.6 212.8,297.7C209.5,298.8 204.5,300.1 200.3,300.3C196.1,300.5 192.0,299.0 187.8,299.0C183.6,299.0 179.0,299.7 175.2,300.3C171.4,300.9 167.7,302.6 165.2,302.8C162.7,303.0 162.7,300.3 160.2,301.5C157.7,302.7 160.0,310.2 150.0,310.0C140.0,309.8 125.0,308.3 100.0,300.0C75.0,291.7 16.7,293.3 0.0,260.0C-16.7,226.7 -16.7,133.3 0.0,100.0C16.7,66.7 58.3,68.3 100.0,60.0C141.7,51.7 212.8,50.0 250.0,50.0C287.2,50.0 310.9,53.3 323.1,60.0Z" fill="#f67b4a"/>
<path d="M152.7,267.7C153.3,265.8 155.2,263.8 157.7,262.7C160.2,261.6 164.6,261.0 167.7,261.4C170.8,261.8 174.2,263.3 176.5,265.2C178.8,267.1 180.9,270.2 181.5,272.7C182.1,275.2 181.6,278.3 180.3,280.2C179.1,282.1 176.1,283.6 174.0,284.0C171.9,284.4 170.0,283.8 167.7,282.7C165.4,281.6 162.5,279.2 160.2,277.7C157.9,276.2 155.2,275.6 153.9,273.9C152.7,272.2 152.1,269.6 152.7,267.7Z" fill="#fdbf71"/>
<path d="M167.0,237.5C167.0,236.2 170.0,233.5 171.5,233.5C173.0,233.5 176.0,236.2 176.0,237.5C176.0,238.8 173.0,241.5 171.5,241.5C170.0,241.5 167.0,238.8 167.0,237.5Z" fill="#f67b4a"/>
<path d="M428.0,226.0C430.0,224.4 438.8,226.3 440.5,228.0C442.2,229.7 439.5,233.5 438.0,236.3C436.5,239.1 433.3,244.8 431.7,245.0C430.1,245.2 429.1,240.8 428.5,237.6C427.9,234.4 426.0,227.6 428.0,226.0Z" fill="#f67b4a"/>
<path d="M161.6,110.0C165.2,108.2 175.8,111.5 178.8,115.0C181.8,118.5 177.9,127.4 179.5,130.8C181.1,134.2 186.5,132.9 188.2,135.5C189.9,138.1 190.1,142.8 189.8,146.5C189.6,150.2 188.3,154.1 186.7,157.5C185.1,160.9 182.2,164.3 180.4,166.9C178.6,169.5 177.8,171.5 175.7,173.1C173.6,174.7 169.9,174.5 167.8,176.3C165.7,178.1 164.9,181.2 163.1,184.1C161.3,187.0 159.5,191.2 156.9,193.5C154.3,195.8 151.2,197.1 147.5,198.2C143.8,199.2 138.6,198.2 134.9,199.8C131.2,201.4 129.7,205.0 125.5,207.6C121.3,210.2 115.0,213.1 109.8,215.5C104.6,217.9 97.8,221.0 94.1,221.8C90.4,222.6 90.1,221.8 87.8,220.2C85.5,218.6 83.4,214.5 80.0,212.4C76.6,210.3 71.2,208.1 67.5,207.6C63.8,207.1 61.9,209.4 58.0,209.2C54.1,208.9 47.8,208.7 43.9,206.1C40.0,203.5 36.3,197.7 34.5,193.5C32.7,189.3 32.9,184.7 32.9,181.0C32.9,177.3 33.5,174.5 34.5,171.6C35.5,168.7 36.6,165.8 39.2,163.7C41.8,161.6 46.3,159.2 50.2,159.0C54.1,158.8 58.5,160.9 62.7,162.2C66.9,163.5 73.2,163.8 75.3,166.9C77.4,170.0 74.5,176.0 75.3,181.0C76.1,186.0 77.4,192.8 80.0,196.7C82.6,200.6 87.1,204.0 91.0,204.5C94.9,205.0 99.3,202.2 103.5,199.8C107.7,197.5 112.2,194.1 116.1,190.4C120.0,186.7 124.0,180.8 127.1,177.8C130.2,174.8 131.5,173.5 134.9,172.2C138.3,170.9 143.8,171.2 147.5,170.0C151.2,168.8 154.8,167.4 156.9,165.3C159.0,163.2 160.0,161.7 160.0,157.5C160.0,153.3 157.4,145.4 156.9,140.2C156.4,135.0 156.1,131.1 156.9,126.1C157.7,121.1 157.9,111.8 161.6,110.0Z" fill="#da372a"/>
<path d="M247.8,181.0C248.6,176.8 248.9,174.1 251.0,171.6C253.1,169.1 256.2,167.2 260.4,166.2C264.6,165.1 270.9,164.3 276.1,165.3C281.3,166.3 287.4,169.8 291.8,172.2C296.2,174.5 300.4,176.4 302.7,179.4C305.0,182.4 305.9,187.0 305.9,190.4C305.9,193.8 304.5,196.7 302.7,199.8C300.9,202.9 298.3,207.1 294.9,209.2C291.5,211.3 286.3,211.3 282.4,212.4C278.5,213.5 273.5,214.5 271.4,215.5C269.3,216.5 272.1,218.1 269.8,218.6C267.5,219.1 260.7,219.9 257.3,218.6C253.9,217.3 251.2,214.5 249.4,210.8C247.6,207.2 246.6,201.7 246.3,196.7C246.0,191.7 247.0,185.2 247.8,181.0Z" fill="#da372a"/>
<path d="M252.5,204.5C252.9,202.7 253.9,200.0 255.7,198.2C257.5,196.4 261.2,194.0 263.5,193.5C265.8,193.0 268.4,193.8 269.2,195.1C270.0,196.4 269.1,199.3 268.2,201.4C267.2,203.5 265.1,206.0 263.5,207.6C261.9,209.2 260.5,210.5 258.8,210.8C257.1,211.1 254.6,210.2 253.5,209.2C252.4,208.1 252.1,206.3 252.5,204.5Z" fill="#a50026"/>
<path d="M383.0,153.0C383.8,151.1 387.0,150.3 390.0,150.5C393.0,150.7 397.5,151.9 401.0,154.0C404.5,156.1 408.8,160.0 411.0,163.0C413.2,166.0 414.2,169.4 414.0,172.0C413.8,174.6 412.0,177.5 410.0,178.5C408.0,179.5 405.0,179.1 402.0,178.0C399.0,176.9 394.8,174.7 392.0,172.0C389.2,169.3 386.5,165.2 385.0,162.0C383.5,158.8 382.2,154.9 383.0,153.0Z" fill="#feeea5"/>
<path d="M357.6,189.5C358.7,188.2 362.4,187.1 365.1,188.3C367.8,189.6 372.6,194.7 373.9,197.0C375.1,199.3 374.1,201.4 372.6,202.0C371.1,202.6 367.4,201.8 365.1,200.8C362.8,199.8 360.1,197.7 358.8,195.8C357.6,193.9 356.6,190.8 357.6,189.5Z" fill="#feeea5"/>
<path d="M263.5,294.0C263.5,293.0 268.9,291.0 271.7,291.0C274.4,291.0 280.0,293.0 280.0,294.0C280.0,295.0 274.4,297.0 271.7,297.0C268.9,297.0 263.5,295.0 263.5,294.0Z" fill="#feeea5"/>
<path d="M220.4,325.3C224.6,324.1 224.8,324.5 225.4,322.8C226.0,321.1 223.7,317.2 224.1,315.3C224.5,313.4 225.6,312.8 227.9,311.5C230.2,310.2 235.0,309.2 237.9,307.8C240.8,306.4 243.3,304.5 245.4,302.8C247.5,301.1 249.2,297.1 250.4,297.7C251.6,298.3 250.5,305.4 252.5,306.5C254.5,307.6 258.8,305.1 262.6,304.0C266.4,302.9 270.9,301.4 275.1,300.2C279.3,298.9 283.4,297.0 287.6,296.5C291.8,296.0 296.0,297.2 300.2,297.2C304.4,297.2 309.1,297.0 312.7,296.5C316.2,296.0 319.4,293.4 321.5,294.0C323.6,294.6 322.9,299.2 325.2,300.2C327.5,301.2 331.4,300.8 335.2,300.2C339.0,299.6 344.0,298.2 347.8,296.5C351.6,294.8 355.3,292.1 357.8,290.2C360.3,288.3 360.3,286.7 362.8,285.2C365.3,283.7 369.5,282.7 372.8,281.4C376.1,280.1 379.5,278.6 382.9,277.2C386.2,275.8 389.6,273.9 392.9,272.7C396.2,271.5 399.1,270.8 402.9,270.2C406.6,269.6 412.3,269.5 415.4,268.9C418.5,268.3 420.1,265.8 421.7,266.4C423.3,267.0 423.6,272.1 425.0,272.5C426.4,272.9 427.9,269.8 430.0,268.8C432.1,267.8 435.2,267.1 437.5,266.3C439.8,265.5 443.2,264.9 443.8,263.8C444.4,262.8 442.2,261.2 441.3,260.0C440.4,258.8 438.1,257.6 438.1,256.3C438.1,255.1 439.3,253.4 441.3,252.5C443.3,251.6 447.1,251.0 450.0,250.6C452.9,250.2 456.7,250.4 458.8,250.0C460.9,249.6 461.5,249.1 462.5,248.1C463.5,247.1 463.8,245.1 465.0,243.8C466.2,242.6 468.3,241.7 470.0,240.6C471.7,239.5 473.8,238.4 475.0,237.5C476.2,236.6 477.5,235.9 477.5,235.0C477.5,234.1 475.2,233.2 475.0,231.9C474.8,230.6 475.1,229.8 476.3,227.0C477.5,224.2 468.1,217.0 482.0,215.0C495.9,213.0 547.0,166.3 560.0,215.0C573.0,263.7 620.0,458.3 560.0,507.0C500.0,555.7 260.0,536.5 200.0,507.0C140.0,477.5 196.6,360.3 200.0,330.0C203.4,299.7 216.2,326.5 220.4,325.3Z" fill="#feeea5"/>
<path d="M494.0,237.0C482.8,238.6 493.3,238.1 492.5,239.4C491.7,240.7 490.4,243.3 489.4,245.0C488.4,246.7 487.2,247.9 486.3,249.4C485.4,250.9 484.6,252.7 483.8,253.8C483.0,255.0 482.4,255.5 481.3,256.3C480.2,257.1 479.0,257.8 477.5,258.8C476.0,259.8 474.2,261.4 472.5,262.5C470.8,263.6 469.2,264.5 467.5,265.6C465.8,266.8 464.2,268.1 462.5,269.4C460.8,270.6 459.2,272.0 457.5,273.1C455.8,274.2 454.2,275.2 452.5,276.3C450.8,277.4 449.2,277.9 447.5,279.4C445.8,280.8 444.4,283.2 442.5,285.0C440.6,286.8 438.4,288.5 436.3,290.0C434.2,291.5 431.9,292.6 430.0,293.8C428.1,295.1 426.4,296.1 425.0,297.5C423.6,298.9 422.1,301.0 421.3,302.5C420.5,304.0 420.8,304.6 420.0,306.3C419.2,308.0 417.6,310.4 416.3,312.5C415.1,314.6 413.4,316.9 412.5,318.8C411.6,320.7 411.0,321.9 410.6,323.8C410.2,325.7 410.3,327.9 410.0,330.0C409.7,332.1 409.4,334.8 408.8,336.3C408.2,337.8 407.8,338.2 406.3,338.8C404.8,339.4 401.8,339.8 400.0,340.0C398.2,340.2 397.1,339.7 395.5,340.1C393.9,340.5 392.2,341.4 390.5,342.6C388.8,343.9 387.2,345.9 385.5,347.6C383.8,349.3 382.2,350.6 380.5,352.7C378.8,354.8 376.9,358.1 375.4,360.2C373.9,362.3 373.4,364.2 371.7,365.2C370.0,366.2 368.1,366.0 365.4,366.4C362.7,366.8 358.7,367.7 355.4,367.7C352.1,367.7 348.3,367.0 345.4,366.4C342.5,365.8 339.3,365.1 337.8,363.9C336.3,362.6 335.8,360.8 336.6,358.9C337.5,357.0 340.6,354.1 342.9,352.7C345.2,351.2 347.5,350.4 350.4,350.2C353.3,350.0 357.5,351.0 360.4,351.4C363.3,351.8 365.8,352.9 367.9,352.7C370.0,352.5 372.5,351.9 372.9,350.2C373.3,348.5 370.8,345.1 370.4,342.6C370.0,340.1 370.0,338.0 370.4,335.1C370.8,332.2 372.1,328.2 372.9,325.1C373.7,322.0 376.2,318.2 375.4,316.3C374.6,314.4 370.4,314.4 367.9,313.8C365.4,313.2 363.3,312.6 360.4,312.6C357.5,312.6 353.3,313.2 350.4,313.8C347.5,314.4 345.4,315.1 342.9,316.3C340.4,317.6 337.4,319.8 335.3,321.3C333.2,322.8 332.0,323.6 330.3,325.1C328.6,326.6 327.0,330.1 325.3,330.1C323.6,330.1 322.4,327.0 320.3,325.1C318.2,323.2 315.3,320.7 312.8,318.8C310.3,316.9 308.2,314.8 305.3,313.8C302.4,312.8 298.6,312.0 295.2,312.6C291.8,313.2 288.5,315.5 285.2,317.6C281.9,319.7 278.1,323.0 275.2,325.1C272.3,327.2 270.6,328.4 267.7,330.1C264.8,331.8 260.5,333.4 257.6,335.1C254.7,336.8 252.2,338.2 250.1,340.1C248.0,342.0 247.6,344.5 245.1,346.4C242.6,348.3 238.4,349.3 235.1,351.4C231.8,353.5 228.4,357.0 225.1,358.9C221.8,360.8 219.2,352.5 215.0,362.7C210.8,372.9 142.5,410.4 200.0,420.0C257.5,429.6 500.0,451.7 560.0,420.0C620.0,388.3 571.0,260.5 560.0,230.0C549.0,199.5 505.2,235.4 494.0,237.0Z" fill="#eef8df"/>
<path d="M344.1,319.6C344.1,318.5 348.3,316.3 350.4,316.3C352.5,316.3 356.6,318.5 356.6,319.6C356.6,320.7 352.5,322.8 350.4,322.8C348.3,322.8 344.1,320.7 344.1,319.6Z" fill="#feeea5"/>
<path d="M293.2,341.4C293.2,340.6 297.9,338.9 300.3,338.9C302.7,338.9 307.3,340.6 307.3,341.4C307.3,342.2 302.7,343.9 300.3,343.9C297.9,343.9 293.2,342.2 293.2,341.4Z" fill="#bde2ee"/>
<path d="M225.0,392.0C226.3,388.7 229.2,391.2 232.6,390.3C235.9,389.4 240.5,387.4 245.1,386.5C249.7,385.6 255.2,385.2 260.2,384.7C265.2,384.1 270.6,383.9 275.2,383.2C279.8,382.5 282.7,382.1 287.7,380.7C292.7,379.2 301.3,369.6 305.0,374.5C308.7,379.4 323.3,404.1 310.0,410.0C296.7,415.9 239.2,413.0 225.0,410.0C210.8,407.0 223.7,395.3 225.0,392.0Z" fill="#bde2ee"/>
<path d="M499.0,245.0C488.6,246.2 498.4,246.3 497.5,247.5C496.6,248.7 495.1,250.4 493.8,251.9C492.6,253.4 491.2,255.0 490.0,256.3C488.8,257.7 487.6,258.9 486.3,260.0C485.1,261.1 483.8,262.1 482.5,263.1C481.2,264.2 480.1,265.2 478.8,266.3C477.6,267.4 476.2,268.6 475.0,270.0C473.8,271.4 472.6,273.5 471.3,275.0C470.1,276.5 468.8,277.5 467.5,278.8C466.2,280.1 464.8,282.0 463.8,283.0C462.8,284.0 462.6,284.2 461.3,285.0C460.1,285.8 458.2,286.7 456.3,287.5C454.4,288.3 451.8,289.2 450.0,290.0C448.2,290.8 446.4,291.4 445.6,292.5C444.8,293.6 444.7,295.1 445.0,296.3C445.3,297.6 446.0,298.9 447.5,300.0C449.0,301.1 453.4,302.4 453.8,303.1C454.2,303.8 451.7,304.0 450.0,304.4C448.3,304.8 445.9,305.2 443.8,305.6C441.7,306.0 439.6,306.3 437.5,306.9C435.4,307.5 433.0,308.2 431.3,309.4C429.6,310.5 428.6,312.2 427.5,313.8C426.4,315.4 425.8,317.1 425.0,318.8C424.2,320.5 423.2,321.9 422.5,323.8C421.8,325.7 421.2,327.9 420.6,330.0C420.0,332.1 419.3,334.1 418.8,336.3C418.3,338.5 417.5,340.7 417.5,343.0C417.5,345.3 420.2,348.5 419.0,350.0C417.8,351.5 413.2,351.4 410.0,352.0C406.8,352.6 403.0,352.7 400.0,353.5C397.0,354.3 394.3,355.4 392.0,357.0C389.7,358.6 387.9,361.2 386.0,363.0C384.1,364.8 383.1,366.5 380.5,367.7C377.9,368.9 373.8,369.6 370.4,370.2C367.0,370.8 363.7,370.9 360.4,371.5C357.1,372.1 353.7,373.4 350.4,374.0C347.1,374.6 343.8,374.8 340.4,375.2C337.0,375.6 333.6,376.5 330.3,376.5C327.0,376.5 323.7,375.4 320.3,375.2C316.9,374.9 311.7,353.0 310.0,375.0C308.3,397.0 268.3,485.0 310.0,507.0C351.7,529.0 518.3,551.5 560.0,507.0C601.7,462.5 570.2,283.7 560.0,240.0C549.8,196.3 509.4,243.8 499.0,245.0Z" fill="#bde2ee"/>
<path d="M503.0,249.0C493.2,249.2 502.2,250.2 501.3,251.3C500.4,252.4 498.8,254.2 497.5,255.6C496.2,257.1 495.1,258.6 493.8,260.0C492.6,261.4 491.2,262.6 490.0,263.8C488.8,265.1 487.6,266.2 486.3,267.5C485.1,268.8 483.8,270.1 482.5,271.3C481.2,272.6 479.8,273.8 478.8,275.0C477.8,276.2 477.0,277.5 476.3,278.8C475.6,280.1 475.2,282.0 474.4,283.0C473.6,284.0 472.4,284.0 471.3,285.0C470.2,286.0 469.4,287.6 467.5,288.8C465.6,290.1 460.4,291.5 460.0,292.5C459.6,293.5 462.9,293.9 465.0,295.0C467.1,296.1 470.4,297.9 472.5,298.8C474.6,299.7 476.2,299.9 477.5,300.6C478.8,301.3 480.2,302.2 480.0,303.1C479.8,304.1 477.8,305.6 476.3,306.3C474.9,307.0 472.8,306.9 471.3,307.5C469.8,308.1 468.6,308.9 467.5,310.0C466.4,311.1 466.2,312.8 465.0,313.8C463.8,314.9 461.2,315.5 460.0,316.3C458.8,317.1 458.3,317.8 457.5,318.8C456.7,319.8 456.2,321.5 455.0,322.5C453.8,323.5 451.9,324.5 450.0,325.0C448.1,325.5 445.9,325.4 443.8,325.6C441.7,325.8 439.4,325.8 437.5,326.3C435.6,326.8 433.9,327.8 432.5,328.8C431.1,329.8 429.9,330.6 428.8,332.5C427.7,334.4 426.0,338.1 425.6,340.0C425.2,341.9 425.6,342.6 426.3,343.8C427.0,345.1 428.6,346.2 430.0,347.5C431.4,348.8 433.3,350.1 435.0,351.3C436.7,352.6 438.3,353.8 440.0,355.0C441.7,356.2 443.3,357.8 445.0,358.8C446.7,359.8 450.0,360.3 450.0,361.0C450.0,361.7 446.9,362.2 445.0,362.8C443.1,363.4 440.7,363.8 438.8,364.4C436.9,365.0 435.7,365.6 433.8,366.3C431.9,367.0 429.6,368.2 427.5,368.8C425.4,369.4 423.4,369.6 421.3,370.0C419.2,370.4 416.8,371.1 415.0,371.3C413.2,371.5 411.4,371.9 410.6,371.3C409.8,370.7 410.7,368.6 410.0,367.5C409.3,366.4 407.6,365.1 406.3,364.4C405.1,363.7 403.8,363.0 402.5,363.1C401.2,363.2 400.5,363.9 398.8,365.0C397.1,366.1 394.4,368.1 392.5,370.0C390.6,371.9 388.8,374.3 387.5,376.3C386.2,378.3 385.8,379.9 385.0,382.0C384.2,384.1 384.2,387.9 383.0,389.0C381.8,390.1 379.2,388.6 377.5,388.8C375.8,389.0 373.3,389.2 372.5,390.0C371.7,390.8 372.3,392.3 372.5,393.8C372.7,395.3 374.2,397.6 373.8,398.8C373.4,400.1 371.7,400.7 370.0,401.3C368.3,401.9 365.9,402.2 363.8,402.5C361.7,402.8 360.2,403.1 357.5,403.1C354.8,403.1 350.2,402.5 347.5,402.5C344.8,402.5 343.4,402.6 341.3,403.1C339.2,403.6 336.9,405.1 335.0,405.6C333.1,406.1 331.2,407.3 330.0,406.3C328.8,405.3 328.8,400.9 327.5,399.4C326.2,397.9 324.7,397.9 322.5,397.5C320.3,397.1 317.3,396.8 314.4,396.9C311.5,397.0 306.6,379.6 305.0,398.0C303.4,416.4 262.5,488.8 305.0,507.0C347.5,525.2 517.5,549.8 560.0,507.0C602.5,464.2 569.5,293.0 560.0,250.0C550.5,207.0 512.8,248.8 503.0,249.0Z" fill="#80b7d6"/>
<path d="M322.5,421.3C324.4,418.0 325.4,412.0 327.5,410.0C329.6,408.0 332.9,408.3 335.0,409.4C337.1,410.4 338.9,413.9 340.0,416.3C341.1,418.7 341.5,421.1 341.3,423.8C341.1,426.5 340.5,430.6 338.8,432.5C337.1,434.4 333.9,434.2 331.3,435.0C328.7,435.8 325.7,437.8 323.1,437.0C320.6,436.2 316.1,432.6 316.0,430.0C315.9,427.4 320.6,424.6 322.5,421.3Z" fill="#bde2ee"/>
<path d="M514.0,256.0C508.4,257.5 512.4,257.8 511.3,258.8C510.2,259.8 508.8,260.9 507.5,261.9C506.2,262.9 505.1,264.1 503.8,265.0C502.6,265.9 501.5,266.8 500.0,267.5C498.5,268.2 496.7,268.7 495.0,269.4C493.3,270.1 491.7,270.9 490.0,271.9C488.3,272.9 486.4,274.2 485.0,275.6C483.6,277.0 482.3,278.6 481.3,280.0C480.3,281.4 479.0,282.6 479.0,283.8C479.0,285.1 479.9,286.1 481.3,287.5C482.7,288.9 486.1,290.8 487.5,292.5C488.9,294.2 489.4,295.8 490.0,297.5C490.6,299.2 490.2,300.8 491.3,302.5C492.4,304.2 494.9,306.0 496.3,307.5C497.8,309.0 499.4,310.1 500.0,311.3C500.6,312.6 500.8,314.0 500.0,315.0C499.2,316.0 497.1,316.9 495.0,317.5C492.9,318.1 489.4,318.2 487.5,318.8C485.6,319.4 484.8,320.3 483.8,321.3C482.8,322.3 481.5,323.6 481.3,325.0C481.1,326.4 481.9,328.3 482.5,330.0C483.1,331.7 484.2,334.8 485.0,335.0C485.8,335.2 486.2,332.1 487.5,331.3C488.8,330.5 490.4,330.2 492.5,330.0C494.6,329.8 497.7,329.9 500.0,330.0C502.3,330.1 504.3,330.3 506.3,330.6C508.3,330.9 505.6,331.7 512.0,331.9C518.5,332.1 539.5,345.6 545.0,332.0C550.5,318.4 550.2,262.7 545.0,250.0C539.8,237.3 519.6,254.5 514.0,256.0Z" fill="#4a7bb7"/>
<path d="M470.0,375.0C467.5,365.8 462.5,375.0 460.0,375.0C457.5,375.0 457.1,374.7 455.0,375.0C452.9,375.3 449.6,376.3 447.5,376.9C445.4,377.5 444.2,378.1 442.5,378.8C440.8,379.5 439.2,380.3 437.5,381.3C435.8,382.3 434.6,383.8 432.5,385.0C430.4,386.2 427.1,387.6 425.0,388.8C422.9,390.1 422.1,391.2 420.0,392.5C417.9,393.8 415.0,395.2 412.5,396.3C410.0,397.4 407.5,397.7 405.0,398.8C402.5,399.9 399.5,401.8 397.5,403.1C395.5,404.5 393.3,405.5 393.1,406.9C392.9,408.3 395.2,409.9 396.3,411.3C397.4,412.7 399.0,413.6 400.0,415.0C401.0,416.4 402.1,417.9 402.5,420.0C402.9,422.1 402.3,425.2 402.5,427.5C402.7,429.8 403.4,432.2 403.8,433.8C404.2,435.4 404.4,435.6 405.0,437.0C405.6,438.4 406.2,440.4 407.5,442.0C408.8,443.6 410.4,445.2 412.5,446.4C414.6,447.5 417.3,448.3 420.0,448.9C422.7,449.5 426.3,450.2 428.8,450.1C431.3,450.0 433.1,449.0 435.0,448.3C436.9,447.6 438.3,446.9 440.0,445.8C441.7,444.8 443.8,443.5 445.0,442.0C446.2,440.5 446.3,438.3 447.5,437.0C448.7,435.7 447.4,435.2 452.0,434.0C456.6,432.8 472.0,439.8 475.0,430.0C478.0,420.2 472.5,384.2 470.0,375.0Z" fill="#4a7bb7"/>
<path d="M436.9,340.0C437.1,339.0 438.4,337.0 440.0,336.9C441.6,336.8 443.8,338.8 446.3,339.4C448.8,340.0 453.2,340.1 455.0,340.6C456.8,341.1 457.5,341.9 456.9,342.5C456.3,343.1 453.3,344.1 451.3,344.4C449.3,344.7 447.1,344.6 445.0,344.4C442.9,344.2 440.2,343.8 438.8,343.1C437.4,342.4 436.7,341.0 436.9,340.0Z" fill="#4a7bb7"/>
<path d="M476.3,330.0C476.5,328.0 477.4,326.5 478.1,325.6C478.8,324.7 480.1,323.7 480.6,324.4C481.1,325.1 481.2,327.8 481.3,330.0C481.4,332.2 481.4,334.8 481.3,337.5C481.2,340.2 481.0,344.9 480.6,346.3C480.2,347.7 479.4,347.1 478.8,345.6C478.2,344.1 477.3,340.1 476.9,337.5C476.5,334.9 476.1,332.0 476.3,330.0Z" fill="#4a7bb7"/>
<path d="M483.8,347.5C484.8,346.7 489.2,349.9 490.0,351.3C490.8,352.7 489.8,355.2 488.8,356.0C487.8,356.8 484.8,357.4 484.0,356.0C483.2,354.6 482.8,348.3 483.8,347.5Z" fill="#4a7bb7"/>
<path d="M444.4,473.3C445.2,471.7 446.6,470.7 448.8,470.1C451.0,469.5 454.3,469.7 457.5,469.8C460.7,469.9 466.2,469.4 468.0,470.8C469.8,472.2 469.3,475.4 468.0,478.3C466.7,481.2 462.6,487.0 460.0,488.0C457.4,489.0 455.0,484.7 452.5,484.5C450.0,484.3 446.4,487.8 445.0,487.0C443.6,486.2 443.9,481.8 443.8,479.5C443.7,477.2 443.6,474.9 444.4,473.3Z" fill="#4a7bb7"/>
<path d="M515.0,291.9C515.7,290.0 517.7,291.0 520.0,291.0C522.3,291.0 526.8,290.6 528.8,291.9C530.8,293.2 532.6,296.4 532.0,298.8C531.4,301.2 525.3,304.3 525.0,306.3C524.7,308.3 530.2,310.4 530.0,311.0C529.8,311.6 525.7,310.6 523.8,310.0C521.9,309.4 520.2,308.8 518.8,307.5C517.4,306.2 516.2,305.1 515.6,302.5C515.0,299.9 514.3,293.8 515.0,291.9Z" fill="#313695"/>
</g>
<use href="#lines"/>
<use href="#belo" fill="none" stroke="#1e1e1e" stroke-width="1.5" stroke-linejoin="round"/>
<circle cx="498.1" cy="358.1" r="1.9" fill="none" stroke="#1e1e1e" stroke-width="1.2"/>
<circle cx="226" cy="334.2" r="1.9" fill="none" stroke="#1e1e1e" stroke-width="1.2"/>
<ellipse cx="332" cy="81.7" rx="2.6" ry="3.2" fill="#262626" transform="rotate(35 332 81.7)"/>
<path d="M309.6,84.4 L313.1,84.4 L317.9,86.4 L319.4,88.4 L313.1,89.6 L310.4,88.0Z" fill="#fff" stroke="#262626" stroke-width="1.2" stroke-linejoin="round"/>
</g>
<g transform="translate(640,0)">
<g clip-path="url(#bel)">
<rect x="0" y="60" width="560" height="447" fill="#f98e52"/>
<path d="M77.7,118.9C77.3,116.2 75.1,113.5 78.0,110.0C80.9,106.5 89.6,101.0 95.0,98.0C100.4,95.0 105.1,93.0 110.3,92.0C115.5,91.0 123.2,87.3 126.0,92.0C128.8,96.7 128.4,114.5 127.0,120.2C125.6,125.9 121.4,124.7 117.8,126.4C114.2,128.1 109.9,129.8 105.3,130.2C100.7,130.6 94.4,129.5 90.2,128.9C86.0,128.3 82.3,128.1 80.2,126.4C78.1,124.7 78.1,121.6 77.7,118.9Z" fill="#fed484"/>
<path d="M224.7,146.3C225.2,144.3 226.7,139.4 228.4,138.8C230.1,138.2 233.1,140.9 235.0,142.5C236.9,144.1 239.4,146.4 239.7,148.1C240.0,149.8 238.5,151.7 236.9,152.8C235.3,153.9 232.2,155.0 230.3,154.7C228.4,154.4 226.5,152.4 225.6,151.0C224.7,149.6 224.2,148.3 224.7,146.3Z" fill="#fed484"/>
<path d="M443.3,148.1C442.8,146.2 443.9,143.9 445.1,142.5C446.4,141.1 448.8,139.7 450.8,139.7C452.8,139.7 456.5,140.8 457.0,142.5C457.5,144.2 455.5,148.1 454.0,150.0C452.5,151.9 449.8,154.1 448.0,153.8C446.2,153.5 443.8,150.0 443.3,148.1Z" fill="#fed484"/>
<path d="M160.3,234.4C160.0,232.5 160.7,229.7 161.3,226.9C161.9,224.1 162.6,219.8 164.1,217.5C165.6,215.2 168.9,214.7 170.6,212.8C172.3,210.9 172.8,208.5 174.4,206.3C176.0,204.1 177.8,200.9 180.0,199.7C182.2,198.4 184.7,198.8 187.5,198.8C190.3,198.8 194.7,198.8 196.9,199.7C199.1,200.6 200.0,202.7 200.6,204.4C201.2,206.1 201.2,208.3 200.6,210.0C200.0,211.7 197.8,213.3 196.9,214.7C196.0,216.1 194.4,217.3 195.0,218.4C195.6,219.5 198.4,220.7 200.6,221.3C202.8,221.9 205.9,221.6 208.1,222.2C210.3,222.8 213.2,223.6 213.8,225.0C214.4,226.4 212.9,229.0 211.9,230.6C210.9,232.2 209.0,233.2 208.1,234.4C207.2,235.7 206.3,236.4 206.3,238.1C206.3,239.8 208.4,242.8 208.1,244.7C207.8,246.6 205.8,248.0 204.4,249.4C203.0,250.8 201.3,253.1 199.7,253.1C198.1,253.1 196.7,250.7 195.0,249.4C193.3,248.2 191.3,246.7 189.4,245.6C187.5,244.5 185.4,243.0 183.8,242.8C182.2,242.7 181.6,244.7 180.0,244.7C178.4,244.7 176.4,243.6 174.4,242.8C172.4,242.0 169.7,240.8 167.8,240.0C165.9,239.2 164.3,239.0 163.1,238.1C161.8,237.2 160.6,236.3 160.3,234.4Z" fill="#fed484"/>
<path d="M110.0,278.0C107.9,276.0 111.6,276.6 112.5,275.0C113.4,273.4 114.0,270.5 115.3,268.1C116.5,265.7 118.4,262.5 120.0,260.6C121.6,258.7 123.1,257.4 124.7,256.9C126.3,256.4 127.8,257.2 129.4,257.8C131.0,258.4 132.7,259.0 134.1,260.6C135.5,262.2 136.7,265.2 137.8,267.2C138.9,269.2 139.7,270.8 140.6,272.8C141.5,274.8 142.1,276.8 143.0,279.0C143.9,281.2 146.8,284.3 146.0,286.0C145.2,287.7 141.5,288.8 138.0,289.0C134.5,289.2 129.7,288.8 125.0,287.0C120.3,285.2 112.1,280.0 110.0,278.0Z" fill="#fed484"/>
<path d="M235.7,290.6C236.3,288.0 236.0,285.8 237.6,284.1C239.2,282.4 242.6,281.7 245.1,280.3C247.6,278.9 250.1,276.9 252.6,275.6C255.1,274.4 257.6,272.5 260.1,272.8C262.6,273.1 265.1,276.1 267.6,277.5C270.1,278.9 273.1,279.6 275.1,281.3C277.1,283.0 278.7,285.8 279.8,287.8C280.9,289.8 281.9,291.8 281.7,293.5C281.5,295.2 279.9,296.7 278.8,298.1C277.7,299.5 276.7,300.9 275.1,301.9C273.6,302.8 271.4,303.6 269.5,303.8C267.6,304.1 265.7,303.2 263.8,303.4C261.9,303.5 259.8,303.8 258.2,304.7C256.6,305.6 256.0,307.2 254.4,308.5C252.8,309.8 250.7,310.9 248.8,312.2C246.9,313.4 245.1,315.2 243.2,316.0C241.3,316.8 239.5,317.1 237.6,316.9C235.7,316.7 233.3,315.6 231.9,315.0C230.5,314.4 229.1,314.4 229.1,313.2C229.1,311.9 231.1,309.7 231.9,307.5C232.7,305.3 233.2,302.8 233.8,300.0C234.4,297.2 235.1,293.2 235.7,290.6Z" fill="#fed484"/>
<path d="M255.6,224.4C256.2,223.4 259.5,223.8 260.3,224.4C261.1,225.0 260.9,227.0 260.3,228.0C259.7,229.0 257.3,231.1 256.5,230.5C255.7,229.9 255.0,225.4 255.6,224.4Z" fill="#fed484"/>
<path d="M312.9,223.4C313.5,221.2 316.0,221.3 316.6,223.4C317.2,225.5 317.2,233.8 316.6,236.0C316.0,238.2 313.5,238.7 312.9,236.6C312.3,234.5 312.3,225.6 312.9,223.4Z" fill="#fed484"/>
<path d="M329.8,186.6C330.7,185.6 335.1,185.4 336.3,186.0C337.6,186.6 337.6,188.6 337.3,190.3C337.0,192.0 335.5,195.7 334.4,196.0C333.3,196.3 331.5,193.8 330.7,192.2C329.9,190.6 328.9,187.6 329.8,186.6Z" fill="#fed484"/>
<path d="M358.8,194.1C359.4,192.7 361.6,189.7 363.5,189.4C365.4,189.1 368.2,191.1 370.1,192.2C372.0,193.3 373.9,194.3 374.8,196.0C375.7,197.7 375.9,200.3 375.7,202.5C375.5,204.7 374.9,208.8 373.8,209.1C372.7,209.4 370.7,205.8 369.1,204.4C367.6,203.0 366.1,201.7 364.5,200.6C362.9,199.5 360.8,198.9 359.8,197.8C358.9,196.7 358.2,195.5 358.8,194.1Z" fill="#fed484"/>
<path d="M395.6,211.3C396.5,209.4 397.8,208.6 399.4,207.5C401.0,206.4 402.8,205.5 405.0,204.7C407.2,203.9 410.0,203.0 412.5,202.8C415.0,202.7 417.8,203.0 420.0,203.8C422.2,204.6 424.3,205.9 425.7,207.5C427.1,209.1 427.6,211.2 428.5,213.1C429.4,215.0 430.4,216.9 431.3,218.8C432.2,220.7 433.3,221.6 434.1,224.4C434.9,227.2 434.6,232.9 436.0,235.6C437.4,238.2 440.2,238.7 442.6,240.3C445.0,241.9 447.6,243.6 450.1,245.0C452.6,246.4 455.1,247.7 457.6,248.8C460.1,249.9 462.6,250.7 465.1,251.6C467.6,252.5 470.4,253.5 472.6,254.4C474.8,255.3 476.3,257.1 478.2,257.2C480.1,257.3 481.6,256.2 483.8,255.3C486.0,254.4 489.1,252.7 491.3,251.6C493.5,250.5 495.1,249.7 497.0,248.8C498.9,247.9 495.0,247.0 503.0,246.0C511.0,245.0 538.0,226.5 545.0,243.0C552.0,259.5 557.5,327.5 545.0,345.0C532.5,362.5 483.9,348.1 470.0,348.0C456.1,347.9 463.8,344.5 461.4,344.4C459.0,344.3 457.9,346.4 455.7,347.2C453.5,348.0 451.3,348.7 448.2,349.1C445.1,349.5 440.4,350.0 437.0,349.7C433.6,349.4 430.4,348.1 427.6,347.2C424.8,346.3 422.3,345.8 420.1,344.4C417.9,343.0 416.0,340.7 414.4,338.8C412.8,336.9 412.6,335.1 410.7,333.2C408.8,331.3 404.7,329.7 402.7,327.7C400.7,325.7 400.2,323.7 398.9,321.4C397.6,319.1 396.5,315.5 395.0,314.0C393.5,312.5 391.9,312.1 390.1,312.5C388.3,312.9 386.3,315.1 384.4,316.3C382.5,317.6 380.4,318.8 378.8,320.0C377.2,321.2 376.6,323.6 375.0,323.8C373.4,324.0 371.0,322.1 369.4,321.0C367.8,319.9 366.8,318.5 365.1,316.9C363.5,315.3 361.4,312.9 359.5,311.3C357.6,309.7 355.8,308.6 353.9,307.5C352.0,306.4 350.2,305.3 348.3,304.7C346.4,304.1 344.8,303.9 342.6,303.8C340.4,303.7 336.9,304.1 335.1,303.8C333.3,303.5 331.4,302.6 332.0,302.0C332.6,301.4 336.8,300.6 338.9,300.0C341.0,299.4 342.9,299.2 344.5,298.1C346.1,297.0 346.4,294.8 348.3,293.5C350.2,292.2 353.9,290.8 355.8,290.3C357.8,289.8 358.4,290.2 360.0,290.5C361.6,290.8 364.1,290.5 365.7,292.0C367.3,293.5 367.8,297.1 369.4,299.4C370.9,301.7 373.1,304.6 375.0,306.0C376.9,307.4 379.4,308.3 380.7,307.8C382.0,307.3 382.4,305.1 383.0,303.0C383.6,300.9 384.0,297.7 384.0,295.0C384.0,292.3 383.0,289.7 383.0,287.0C383.0,284.3 383.6,281.7 383.9,278.8C384.2,275.9 384.6,272.5 384.8,269.4C385.0,266.3 385.2,263.4 385.3,260.0C385.4,256.6 385.0,251.9 385.3,248.8C385.6,245.7 386.1,243.8 387.2,241.3C388.3,238.8 390.6,236.3 391.9,233.8C393.1,231.3 394.4,228.8 394.7,226.3C395.0,223.8 393.6,221.3 393.8,218.8C394.0,216.3 394.7,213.2 395.6,211.3Z" fill="#fed484"/>
<path d="M246.9,312.0C246.0,314.6 249.8,318.3 250.7,320.7C251.6,323.1 252.6,324.4 252.6,326.3C252.6,328.2 251.9,330.3 250.7,331.9C249.4,333.5 247.0,334.8 245.1,335.7C243.2,336.6 241.3,337.0 239.4,337.5C237.5,338.0 235.5,337.8 233.8,338.5C232.1,339.2 232.1,340.9 229.0,342.0C225.9,343.1 217.3,332.0 215.0,345.0C212.7,358.0 201.5,407.5 215.0,420.0C228.5,432.5 281.9,429.2 296.0,420.0C310.1,410.8 298.3,375.0 299.5,365.0C300.7,355.0 301.6,361.4 303.2,360.0C304.8,358.6 306.7,357.9 308.9,356.3C311.1,354.8 315.0,352.7 316.4,350.7C317.8,348.7 317.6,346.1 317.3,344.1C317.0,342.1 315.6,340.5 314.5,338.5C313.4,336.5 311.8,334.2 310.7,331.9C309.6,329.5 308.7,326.9 307.9,324.4C307.1,321.9 306.8,319.2 306.0,316.9C305.2,314.5 304.6,312.0 303.2,310.3C301.8,308.6 299.8,307.5 297.6,306.6C295.4,305.7 292.3,305.8 290.1,304.7C287.9,303.6 286.5,300.9 284.5,300.0C282.5,299.1 280.8,298.7 278.0,299.0C275.2,299.3 271.7,301.0 268.0,302.0C264.3,303.0 259.5,303.3 256.0,305.0C252.5,306.7 247.8,309.4 246.9,312.0Z" fill="#fed484"/>
<path d="M157.0,312.0C157.1,309.6 159.7,312.2 160.6,311.3C161.5,310.4 161.2,307.9 162.5,306.6C163.8,305.4 165.9,304.2 168.1,303.8C170.3,303.4 173.4,303.5 175.6,304.1C177.8,304.7 179.6,306.0 181.3,307.5C183.0,309.0 185.0,311.4 186.0,313.2C187.0,314.9 189.3,316.9 187.5,318.0C185.7,319.1 179.6,318.7 175.0,320.0C170.4,321.3 163.0,327.3 160.0,326.0C157.0,324.7 156.9,314.4 157.0,312.0Z" fill="#fed484"/>
<path d="M305.0,384.0C307.6,363.6 317.1,384.5 320.7,384.4C324.2,384.3 324.6,382.9 326.3,383.5C328.0,384.1 329.9,386.1 331.0,388.1C332.1,390.1 332.3,393.4 332.9,395.6C333.5,397.8 333.4,399.7 334.8,401.3C336.2,402.9 339.0,404.1 341.3,405.0C343.6,405.9 346.3,406.6 348.8,406.9C351.3,407.2 353.8,407.2 356.3,406.9C358.8,406.6 361.6,405.9 363.8,405.0C366.0,404.1 368.2,402.9 369.5,401.3C370.8,399.7 371.2,397.5 371.3,395.6C371.4,393.7 370.1,391.6 370.4,390.0C370.7,388.4 371.8,387.2 373.2,386.3C374.6,385.4 377.2,385.3 378.8,384.4C380.4,383.5 381.8,382.3 382.6,380.7C383.4,379.1 382.9,377.1 383.5,375.0C384.1,372.9 385.2,368.2 386.3,368.4C387.4,368.6 388.9,376.2 390.1,376.3C391.4,376.4 392.6,371.3 393.8,368.8C395.1,366.3 396.4,363.8 397.6,361.3C398.9,358.8 400.1,355.5 401.3,353.8C402.6,352.1 403.5,351.0 405.1,351.0C406.7,351.0 408.8,352.7 410.7,353.8C412.6,354.9 414.4,356.4 416.3,357.5C418.2,358.6 421.4,359.2 422.0,360.3C422.6,361.4 421.1,363.0 420.1,364.1C419.2,365.2 417.6,365.5 416.3,366.9C415.1,368.3 413.5,370.6 412.6,372.5C411.7,374.4 411.0,376.2 410.7,378.2C410.4,380.2 409.8,382.8 410.7,384.4C411.6,386.0 414.5,386.5 416.4,388.1C418.3,389.7 420.1,392.2 422.0,393.8C423.9,395.4 427.3,395.9 427.6,397.5C427.9,399.1 425.1,400.9 423.9,403.1C422.6,405.3 421.1,408.1 420.1,410.6C419.2,413.1 417.9,416.4 418.2,418.1C418.5,419.8 420.1,421.0 422.0,421.0C423.9,421.0 427.0,418.9 429.5,418.1C432.0,417.3 434.5,416.6 437.0,416.3C439.5,416.0 442.3,416.6 444.5,416.3C446.7,416.0 445.0,415.1 450.1,414.4C455.2,413.7 470.9,396.6 475.0,412.0C479.1,427.4 503.3,491.2 475.0,507.0C446.7,522.8 333.3,527.5 305.0,507.0C276.7,486.5 302.4,404.4 305.0,384.0Z" fill="#fed484"/>
<path d="M455.7,308.8C455.2,306.9 455.4,304.5 456.7,303.1C457.9,301.7 460.5,300.9 463.2,300.3C465.9,299.7 469.8,299.2 472.6,299.4C475.4,299.6 477.9,300.2 480.1,301.3C482.3,302.4 484.1,304.8 485.7,306.0C487.3,307.2 487.9,308.8 489.5,308.8C491.1,308.8 493.2,306.8 495.1,306.0C497.0,305.2 498.9,304.1 500.8,304.1C502.7,304.1 504.5,305.2 506.4,306.0C508.3,306.8 510.1,307.9 512.0,308.8C513.9,309.7 515.7,310.8 517.6,311.6C519.5,312.4 521.6,312.7 523.3,313.5C525.0,314.3 525.2,315.4 528.0,316.3C530.8,317.2 538.0,310.9 540.0,319.0C542.0,327.1 547.4,357.3 540.0,365.0C532.6,372.7 504.9,367.2 495.4,365.0C485.9,362.8 486.3,354.7 482.9,352.0C479.5,349.3 478.0,349.7 475.0,349.0C472.0,348.3 467.3,348.8 465.0,348.0C462.7,347.2 461.5,345.9 461.4,344.4C461.3,342.9 463.6,341.0 464.2,338.8C464.8,336.6 465.0,333.8 465.1,331.3C465.2,328.8 465.4,326.0 465.1,323.8C464.8,321.6 464.1,319.7 463.2,318.1C462.3,316.5 460.8,315.9 459.5,314.4C458.2,312.8 456.2,310.7 455.7,308.8Z" fill="#f98e52"/>
<path d="M494.1,295.0C493.6,293.0 494.5,290.6 495.1,288.2C495.7,285.8 496.6,282.6 497.9,280.7C499.1,278.8 501.0,277.1 502.6,276.9C504.2,276.7 505.7,278.8 507.3,279.7C508.9,280.6 510.6,281.7 512.0,282.5C513.4,283.3 515.4,283.3 515.7,284.4C516.0,285.5 514.7,287.3 513.8,289.1C512.9,290.9 511.6,293.3 510.1,295.0C508.6,296.7 507.0,298.7 505.0,299.5C503.0,300.3 499.8,300.8 498.0,300.0C496.2,299.2 494.6,297.0 494.1,295.0Z" fill="#f98e52"/>
<path d="M472.6,327.5C472.6,325.6 474.3,323.7 475.4,322.8C476.5,321.9 478.2,321.1 479.2,321.9C480.1,322.7 481.0,325.6 481.1,327.5C481.2,329.4 481.1,332.0 480.1,333.1C479.2,334.2 476.6,335.0 475.4,334.1C474.1,333.2 472.6,329.4 472.6,327.5Z" fill="#fed484"/>
<path d="M408.2,476.7C409.3,475.3 413.6,474.4 414.8,475.8C416.0,477.2 415.8,483.2 415.3,485.2C414.8,487.2 413.1,488.2 411.9,488.0C410.7,487.8 408.8,486.1 408.2,484.2C407.6,482.3 407.1,478.1 408.2,476.7Z" fill="#f98e52"/>
<path d="M418.5,419.5C417.6,418.7 418.8,416.1 419.4,414.8C420.0,413.6 417.3,413.1 422.3,412.0C427.3,410.9 444.6,407.5 449.5,408.0C454.4,408.5 452.6,412.8 452.0,415.0C451.4,417.2 447.7,420.8 445.7,421.4C443.7,422.0 442.3,419.2 440.1,418.6C437.9,418.0 435.1,417.5 432.6,417.6C430.1,417.8 427.5,419.2 425.1,419.5C422.8,419.8 419.4,420.3 418.5,419.5Z" fill="#f98e52"/>
<path d="M298.2,369.4C298.0,368.2 298.8,366.1 300.0,364.7C301.2,363.3 303.8,362.1 305.7,361.0C307.6,359.9 309.9,357.8 311.3,358.0C312.7,358.2 314.7,360.3 314.0,362.0C313.3,363.7 309.2,366.3 307.0,368.0C304.8,369.7 302.5,371.8 301.0,372.0C299.5,372.2 298.4,370.6 298.2,369.4Z" fill="#f98e52"/>
<path d="M386.0,468.0C386.6,467.2 389.7,467.5 390.4,468.3C391.1,469.1 390.6,472.2 390.0,473.0C389.4,473.8 387.2,473.8 386.5,473.0C385.8,472.2 385.4,468.8 386.0,468.0Z" fill="#f98e52"/>
<path d="M390.1,404.5C390.7,403.6 393.3,403.1 393.9,404.0C394.5,404.9 394.5,408.8 393.9,409.7C393.3,410.6 391.1,410.6 390.5,409.7C389.9,408.8 389.5,405.4 390.1,404.5Z" fill="#ffffbf"/>
<path d="M458.5,288.2C457.9,286.0 458.0,281.1 458.5,278.8C459.0,276.5 459.6,275.0 461.3,274.1C463.0,273.2 466.0,273.5 468.8,273.2C471.6,272.9 475.1,272.6 478.2,272.2C481.3,271.8 485.6,270.4 487.6,270.9C489.6,271.4 490.2,273.4 490.4,275.0C490.5,276.6 489.6,279.1 488.5,280.7C487.4,282.3 485.8,283.3 483.8,284.4C481.8,285.5 478.8,286.2 476.3,287.2C473.8,288.1 471.1,289.3 468.8,290.1C466.5,290.9 464.0,292.2 462.3,291.9C460.6,291.6 459.1,290.4 458.5,288.2Z" fill="#ffffbf"/>
<path d="M424.8,340.7C424.3,338.8 425.8,335.6 426.6,333.1C427.4,330.6 428.7,328.1 429.5,325.6C430.3,323.1 430.8,320.6 431.3,318.1C431.8,315.6 431.8,310.9 432.3,310.6C432.8,310.3 433.3,314.3 434.1,316.3C434.9,318.3 435.9,320.6 437.0,322.8C438.1,325.0 439.3,327.4 440.7,329.4C442.1,331.4 444.3,333.3 445.4,335.0C446.5,336.7 447.4,338.3 447.3,339.7C447.2,341.1 446.2,342.6 444.5,343.5C442.8,344.4 439.5,345.2 437.0,345.3C434.5,345.4 431.5,345.2 429.5,344.4C427.5,343.6 425.3,342.6 424.8,340.7Z" fill="#ffffbf"/>
<path d="M415.3,251.6C414.7,249.7 415.4,246.6 416.3,245.0C417.2,243.4 419.1,242.3 421.0,242.2C422.9,242.0 426.1,243.0 427.5,244.1C428.9,245.2 429.5,247.4 429.4,248.8C429.3,250.2 427.0,251.6 427.0,252.5C427.0,253.4 428.4,253.5 429.4,254.4C430.4,255.3 432.4,256.5 433.2,258.2C434.0,259.9 434.4,263.3 434.1,264.7C433.8,266.1 432.2,267.1 431.3,266.6C430.4,266.1 429.6,263.5 428.5,261.9C427.4,260.3 426.1,258.1 424.7,257.2C423.3,256.3 421.6,257.2 420.0,256.3C418.4,255.4 415.9,253.5 415.3,251.6Z" fill="#ffffbf"/>
<path d="M519.5,302.0C519.3,300.3 520.8,298.5 522.0,297.0C523.2,295.5 525.3,292.8 527.0,293.0C528.7,293.2 531.8,295.7 532.0,298.0C532.2,300.3 529.5,305.5 528.0,307.0C526.5,308.5 524.4,307.8 523.0,307.0C521.6,306.2 519.7,303.7 519.5,302.0Z" fill="#ffffbf"/>
<path d="M495.1,264.7C495.7,264.1 498.5,263.1 500.7,262.8C502.9,262.5 507.6,262.3 508.2,262.8C508.8,263.3 506.4,265.1 504.5,265.7C502.6,266.3 498.6,266.8 497.0,266.6C495.4,266.4 494.5,265.3 495.1,264.7Z" fill="#ffffbf"/>
<path d="M274.1,326.3C274.0,324.0 272.4,322.6 273.2,321.6C274.0,320.6 276.6,320.2 278.8,320.3C281.0,320.4 284.1,321.5 286.3,322.5C288.5,323.5 290.1,324.7 292.0,326.3C293.9,327.9 296.1,330.0 297.6,331.9C299.2,333.8 300.2,335.8 301.3,337.5C302.4,339.2 304.5,340.6 304.2,342.2C303.9,343.8 301.5,345.6 299.5,346.9C297.5,348.1 294.5,348.8 292.0,349.7C289.5,350.6 287.0,352.2 284.5,352.5C282.0,352.8 278.7,352.5 277.0,351.6C275.3,350.7 274.6,349.5 274.1,346.9C273.6,344.2 274.1,339.1 274.1,335.7C274.1,332.3 274.2,328.6 274.1,326.3Z" fill="#ffffbf"/>
<path d="M236.3,397.5C236.2,395.7 235.5,392.6 236.3,391.0C237.1,389.4 238.8,388.6 241.0,388.1C243.2,387.6 246.8,387.6 249.4,387.8C252.1,388.0 254.7,388.3 256.9,389.1C259.1,389.9 260.9,391.4 262.5,392.8C264.1,394.2 265.2,396.2 266.3,397.5C267.4,398.8 268.8,398.9 269.1,400.3C269.4,401.7 271.2,405.2 268.0,406.0C264.8,406.8 255.2,405.7 250.0,405.0C244.8,404.3 239.3,403.2 237.0,402.0C234.7,400.8 236.4,399.3 236.3,397.5Z" fill="#ffffbf"/>
<path d="M438.2,484.2C437.1,481.5 438.3,476.9 438.6,473.9C438.9,470.9 438.9,468.6 440.1,466.4C441.3,464.2 443.5,462.4 445.7,460.8C447.9,459.2 451.0,457.5 453.2,457.0C455.4,456.5 456.9,457.2 458.8,458.0C460.7,458.8 462.6,460.3 464.5,461.7C466.4,463.1 469.4,463.0 470.0,466.4C470.6,469.8 470.5,478.1 468.0,482.0C465.5,485.9 458.8,488.7 455.0,490.0C451.2,491.3 447.8,491.0 445.0,490.0C442.2,489.0 439.3,486.9 438.2,484.2Z" fill="#ffffbf"/>
<path d="M97.7,165.3C97.7,162.8 98.2,158.1 100.3,155.2C102.4,152.3 106.5,148.9 110.3,147.7C114.0,146.4 118.6,146.9 122.8,147.7C127.0,148.5 131.5,151.6 135.3,152.7C139.1,153.8 142.1,154.8 145.4,154.0C148.8,153.2 152.9,150.8 155.4,147.7C157.9,144.6 158.7,138.9 160.4,135.2C162.1,131.4 162.9,128.4 165.4,125.2C167.9,122.0 172.6,117.5 175.4,116.0C178.2,114.5 179.2,114.0 182.0,116.0C184.8,118.0 188.9,124.8 192.0,128.0C195.1,131.2 198.4,131.9 200.5,135.2C202.6,138.5 203.9,143.5 204.3,147.7C204.7,151.9 203.6,157.0 203.0,160.3C202.4,163.6 201.8,165.1 200.5,167.5C199.2,169.9 198.0,173.1 195.5,175.0C193.0,176.9 188.8,178.4 185.5,178.8C182.2,179.2 178.8,178.8 175.4,177.5C172.1,176.2 168.7,172.3 165.4,171.3C162.1,170.3 158.7,171.1 155.4,171.3C152.1,171.5 148.8,171.9 145.4,172.5C142.1,173.1 137.8,173.7 135.3,175.0C132.8,176.3 132.4,178.6 130.3,180.1C128.2,181.6 126.1,184.2 122.8,183.8C119.5,183.4 114.0,179.8 110.3,177.5C106.5,175.2 102.4,172.0 100.3,170.0C98.2,168.0 97.7,167.8 97.7,165.3Z" fill="#de3f2e"/>
<path d="M265.7,93.8C266.8,92.8 270.3,92.8 273.2,93.8C276.1,94.8 280.7,97.6 283.2,100.1C285.7,102.6 287.1,106.0 288.2,108.9C289.2,111.8 289.7,115.3 289.5,117.6C289.3,119.9 288.5,122.9 287.0,122.7C285.5,122.5 283.0,118.9 280.7,116.4C278.4,113.9 275.5,110.3 273.2,107.6C270.9,104.9 268.1,102.4 266.9,100.1C265.6,97.8 264.6,94.8 265.7,93.8Z" fill="#de3f2e"/>
<path d="M387.9,117.0C391.6,114.8 403.4,112.2 407.6,114.0C411.8,115.8 411.8,123.7 413.2,127.5C414.6,131.3 415.8,133.8 416.1,136.9C416.4,140.0 415.9,143.8 415.1,146.3C414.3,148.8 413.3,151.3 411.4,151.9C409.5,152.5 406.7,150.6 403.9,150.0C401.1,149.4 397.6,148.7 394.5,148.1C391.4,147.5 387.3,146.1 385.1,146.3C382.9,146.5 381.9,147.2 381.4,149.1C380.9,151.0 382.0,154.5 382.3,157.5C382.6,160.5 383.1,164.1 383.2,166.9C383.3,169.7 382.2,172.5 383.2,174.4C384.1,176.3 386.4,177.2 388.9,178.1C391.4,179.0 395.1,179.4 398.2,180.0C401.3,180.6 405.4,181.1 407.6,181.9C409.8,182.7 411.4,182.8 411.4,184.7C411.4,186.6 409.5,191.1 407.6,193.1C405.7,195.1 402.6,196.9 400.1,196.9C397.6,196.9 395.1,195.0 392.6,193.1C390.1,191.2 387.3,188.7 385.1,185.6C382.9,182.5 382.0,177.5 379.5,174.4C377.0,171.3 372.9,169.1 370.1,166.9C367.3,164.7 364.8,162.7 362.6,161.3C360.4,159.9 357.6,160.3 357.0,158.4C356.4,156.5 357.6,153.3 358.8,150.0C360.1,146.7 362.6,141.6 364.5,138.8C366.4,136.0 368.6,135.6 370.1,133.1C371.7,130.6 372.9,124.4 373.8,123.8C374.7,123.2 374.8,127.7 375.7,129.4C376.6,131.1 378.2,133.2 379.5,134.1C380.8,135.0 382.3,136.1 383.2,135.0C384.1,133.9 384.3,130.5 385.1,127.5C385.9,124.5 384.1,119.2 387.9,117.0Z" fill="#de3f2e"/>
<path d="M322.2,166.9C321.1,165.2 321.4,162.2 322.2,160.3C323.0,158.4 324.9,156.7 326.9,155.6C328.9,154.5 331.9,153.6 334.4,153.8C336.9,154.0 339.6,156.0 341.9,156.6C344.2,157.2 347.5,156.1 348.4,157.5C349.3,158.9 348.6,163.1 347.5,165.0C346.4,166.9 343.8,167.7 341.9,168.8C340.0,169.9 338.5,171.3 336.3,171.6C334.1,171.8 331.2,171.1 328.8,170.3C326.4,169.5 323.3,168.6 322.2,166.9Z" fill="#de3f2e"/>
<path d="M239.7,183.8C240.5,180.4 242.1,176.9 244.4,174.4C246.8,171.9 250.7,170.2 253.8,168.8C256.9,167.4 259.7,166.2 263.1,165.9C266.5,165.6 270.6,166.3 274.4,166.9C278.1,167.5 282.2,168.6 285.6,169.7C289.0,170.8 292.2,172.0 295.0,173.4C297.8,174.8 300.5,176.2 302.5,178.1C304.5,180.0 306.3,182.2 307.2,184.7C308.1,187.2 308.6,190.8 308.1,193.1C307.6,195.4 305.3,197.7 304.4,198.8C303.5,200.0 303.2,198.2 302.6,200.0C302.0,201.8 301.3,206.3 300.7,209.4C300.1,212.5 298.6,216.3 298.8,218.8C299.0,221.3 301.6,222.2 301.6,224.4C301.6,226.6 299.4,229.1 298.8,231.9C298.2,234.7 297.8,238.5 297.9,241.3C298.0,244.1 298.6,246.8 299.7,248.8C300.8,250.8 303.8,251.9 304.4,253.5C305.0,255.1 305.1,257.4 303.5,258.2C301.9,259.0 298.0,258.4 295.0,258.5C292.0,258.6 288.0,259.3 285.7,258.5C283.4,257.7 282.2,255.8 281.0,253.5C279.8,251.2 278.5,247.7 278.2,245.0C277.9,242.3 278.3,240.0 279.1,237.5C279.9,235.0 282.0,232.2 282.9,230.0C283.8,227.8 283.6,226.4 284.7,224.4C285.8,222.4 288.3,220.0 289.4,217.8C290.4,215.6 291.2,213.1 291.0,211.0C290.8,208.9 289.9,206.1 288.2,205.1C286.5,204.1 283.2,204.3 280.7,205.1C278.2,205.9 275.7,208.6 273.2,210.1C270.7,211.6 268.6,212.8 265.7,213.9C262.8,215.0 258.5,215.6 255.6,216.4C252.7,217.2 250.4,219.1 248.1,218.9C245.8,218.7 243.3,216.6 241.9,215.1C240.5,213.6 239.9,211.8 239.7,210.0C239.5,208.2 240.6,206.9 240.6,204.4C240.6,201.9 239.8,198.4 239.7,195.0C239.5,191.6 238.9,187.2 239.7,183.8Z" fill="#de3f2e"/>
<path d="M299.7,248.8C300.9,248.4 302.4,253.2 304.4,253.5C306.4,253.8 309.7,251.8 311.9,250.7C314.1,249.6 315.4,247.5 317.6,246.9C319.8,246.3 323.1,247.4 325.1,246.9C327.1,246.4 329.0,245.7 329.8,244.1C330.6,242.5 329.3,239.8 329.8,237.5C330.3,235.2 331.5,232.5 332.6,230.0C333.7,227.5 335.4,225.0 336.3,222.5C337.2,220.0 336.9,217.2 338.2,215.0C339.4,212.8 341.6,210.3 343.8,209.4C346.0,208.5 349.3,208.8 351.3,209.4C353.3,210.0 355.0,211.2 356.0,213.1C357.0,215.0 357.6,217.8 357.3,220.6C357.0,223.4 355.6,227.3 354.1,230.0C352.6,232.7 350.5,234.9 348.5,236.6C346.5,238.3 344.0,239.1 342.0,240.3C340.0,241.6 338.0,242.7 336.3,244.1C334.6,245.5 332.7,246.8 331.6,248.8C330.5,250.8 330.1,253.5 329.8,256.3C329.5,259.1 330.0,262.6 329.8,265.7C329.6,268.8 329.6,272.8 328.8,275.0C328.0,277.2 327.0,278.4 325.1,278.8C323.2,279.2 319.5,278.4 317.6,277.3C315.7,276.2 315.2,274.3 313.8,272.2C312.4,270.1 310.8,267.0 309.1,264.7C307.4,262.4 305.5,259.6 303.5,258.2C301.5,256.8 297.6,257.6 297.0,256.0C296.4,254.4 298.5,249.2 299.7,248.8Z" fill="#de3f2e"/>
<path d="M440.0,221.0C439.4,222.3 444.3,226.1 446.3,228.1C448.3,230.1 450.0,231.6 451.9,232.8C453.8,234.1 455.4,235.0 457.6,235.6C459.8,236.2 462.6,236.1 465.1,236.6C467.6,237.1 470.1,238.2 472.6,238.5C475.1,238.8 477.9,238.8 480.1,238.5C482.3,238.2 484.7,238.3 485.7,236.6C486.7,234.8 488.6,230.4 486.0,228.0C483.4,225.6 476.0,223.3 470.0,222.0C464.0,220.7 455.0,220.2 450.0,220.0C445.0,219.8 440.6,219.7 440.0,221.0Z" fill="#de3f2e"/>
<path d="M486.7,344.4C486.3,340.5 487.0,339.2 487.6,336.9C488.2,334.5 489.0,332.2 490.4,330.3C491.8,328.4 493.9,326.5 496.1,325.6C498.3,324.7 501.3,324.5 503.6,324.7C505.9,324.9 508.1,326.0 510.1,326.6C512.1,327.2 515.1,327.3 515.8,328.5C516.4,329.7 515.0,332.1 514.0,334.0C513.0,335.9 510.7,337.3 510.0,340.0C509.3,342.7 511.1,346.3 510.0,350.0C508.9,353.7 506.9,360.3 503.6,362.0C500.3,363.7 492.8,362.9 490.0,360.0C487.2,357.1 487.1,348.2 486.7,344.4Z" fill="#de3f2e"/>
<path d="M186.9,285.0C186.9,282.8 186.9,279.7 187.8,277.5C188.7,275.3 190.5,273.1 192.5,271.9C194.5,270.6 197.2,270.2 200.0,270.0C202.8,269.8 206.9,270.0 209.4,270.9C211.9,271.8 213.8,273.6 215.0,275.6C216.2,277.6 215.8,280.3 216.9,283.1C218.0,285.9 221.6,290.0 221.6,292.5C221.6,295.0 218.9,296.4 216.9,298.1C214.9,299.8 211.9,301.7 209.4,302.8C206.9,303.9 204.1,304.9 201.9,304.7C199.7,304.5 198.2,303.3 196.3,301.9C194.4,300.5 192.1,298.2 190.7,296.3C189.3,294.4 188.4,292.5 187.8,290.6C187.2,288.7 186.9,287.2 186.9,285.0Z" fill="#de3f2e"/>
<path d="M316.9,323.8C316.7,321.6 317.0,317.1 317.8,314.4C318.6,311.7 319.9,309.1 321.6,307.8C323.3,306.6 325.8,306.4 328.1,306.9C330.4,307.4 333.1,309.2 335.6,310.6C338.1,312.0 340.9,313.7 343.2,315.3C345.5,316.9 348.4,318.4 349.7,320.0C350.9,321.6 351.2,323.1 350.7,324.7C350.2,326.3 348.3,327.8 346.9,329.4C345.5,331.0 343.6,332.5 342.2,334.1C340.8,335.7 339.1,337.2 338.5,338.8C337.9,340.4 336.8,342.6 338.5,343.5C340.2,344.4 345.2,344.2 348.8,344.4C352.4,344.5 356.6,344.2 360.0,344.4C363.4,344.5 367.0,344.4 369.4,345.3C371.8,346.2 372.5,348.3 374.1,350.0C375.7,351.7 377.4,354.0 378.8,355.7C380.2,357.4 382.3,358.8 382.6,360.3C382.9,361.9 382.0,363.6 380.7,365.0C379.4,366.4 376.9,367.9 375.0,368.8C373.1,369.8 371.3,369.8 369.4,370.7C367.5,371.6 366.0,373.3 363.8,374.4C361.6,375.5 358.8,376.7 356.3,377.2C353.8,377.7 351.3,377.5 348.8,377.2C346.3,376.9 343.8,376.2 341.3,375.3C338.8,374.4 336.0,373.3 333.8,371.6C331.6,369.9 328.8,367.6 328.1,365.0C327.4,362.4 328.9,358.7 329.5,356.0C330.1,353.3 331.4,351.2 331.4,348.8C331.4,346.4 330.1,343.2 329.5,341.3C328.9,339.4 328.8,339.2 327.6,337.5C326.4,335.8 324.0,333.0 322.5,331.3C321.0,329.6 319.7,328.8 318.8,327.5C317.9,326.2 317.1,326.0 316.9,323.8Z" fill="#de3f2e"/>
<path d="M301.3,291.6C301.6,290.5 304.8,289.8 307.0,288.8C309.2,287.9 312.3,285.9 314.5,285.9C316.7,285.9 318.7,287.7 320.1,288.8C321.5,289.9 323.2,291.4 322.9,292.5C322.6,293.6 320.2,294.5 318.2,295.3C316.2,296.1 312.9,297.2 310.7,297.2C308.5,297.2 306.7,296.2 305.1,295.3C303.5,294.4 301.0,292.7 301.3,291.6Z" fill="#de3f2e"/>
<path d="M429.5,368.8C429.2,367.1 430.1,363.9 431.3,362.2C432.6,360.5 434.8,359.3 437.0,358.5C439.2,357.7 442.0,357.4 444.5,357.5C447.0,357.6 449.8,358.6 452.0,359.4C454.2,360.2 456.5,360.9 457.6,362.2C458.7,363.4 458.8,365.3 458.5,366.9C458.2,368.5 457.4,370.5 455.7,371.6C454.0,372.7 450.7,373.4 448.2,373.5C445.7,373.6 443.2,372.7 440.7,372.5C438.2,372.3 435.1,373.1 433.2,372.5C431.3,371.9 429.8,370.5 429.5,368.8Z" fill="#de3f2e"/>
<path d="M246.3,208.1C246.0,206.7 246.8,204.4 248.1,202.5C249.3,200.6 251.8,198.6 253.8,196.9C255.8,195.2 258.1,193.8 260.3,192.2C262.5,190.6 264.9,188.4 266.9,187.5C268.9,186.6 271.2,186.0 272.5,186.6C273.8,187.2 274.4,189.6 274.4,191.3C274.4,193.0 273.4,195.0 272.5,196.9C271.6,198.8 270.4,200.9 268.8,202.5C267.2,204.1 265.0,205.1 263.1,206.3C261.2,207.6 259.7,209.2 257.5,210.0C255.3,210.8 251.9,211.3 250.0,211.0C248.1,210.7 246.6,209.5 246.3,208.1Z" fill="#a50026"/>
<path d="M342.2,361.3C341.7,360.0 342.3,357.9 343.2,356.6C344.1,355.4 345.6,354.3 347.8,353.8C350.0,353.3 353.6,353.2 356.3,353.4C359.0,353.5 362.1,353.8 363.8,354.7C365.5,355.6 366.3,357.1 366.6,358.5C366.9,359.9 366.8,361.9 365.7,363.2C364.6,364.4 362.2,365.5 360.0,366.0C357.8,366.5 354.8,366.2 352.5,366.0C350.2,365.8 347.7,365.5 346.0,364.7C344.3,363.9 342.7,362.6 342.2,361.3Z" fill="#a50026"/>
</g>
<use href="#lines"/>
<use href="#belo" fill="none" stroke="#1e1e1e" stroke-width="1.5" stroke-linejoin="round"/>
<circle cx="498.1" cy="358.1" r="1.9" fill="none" stroke="#1e1e1e" stroke-width="1.2"/>
<circle cx="226" cy="334.2" r="1.9" fill="none" stroke="#1e1e1e" stroke-width="1.2"/>
<ellipse cx="332" cy="81.7" rx="2.6" ry="3.2" fill="#262626" transform="rotate(35 332 81.7)"/>
<path d="M309.6,84.4 L313.1,84.4 L317.9,86.4 L319.4,88.4 L313.1,89.6 L310.4,88.0Z" fill="#fff" stroke="#262626" stroke-width="1.2" stroke-linejoin="round"/>
</g>
<g transform="translate(0,0)">
<path d="M6.9,5 L20,5 L23.75,8.75 L26.9,13.75 L28.75,20 L29.4,26.25 L29,32.5 L27.5,37.5 L25,42.5 L22.5,47.5 L21,51.25 L20.5,54 L6.9,54Z" fill="#0050f0"/>
<path d="M55.9,54 L55.9,7.6 L51.25,9.4 L47.5,12.5 L44.4,16.25 L42.25,20 L41,25 L40.25,29.4 L38.75,33.1 L35.6,36.9 L31.9,41.25 L28.1,45.6 L25.6,49.4 L24,54Z" fill="#0050f0"/>
<text y="71" font-size="21.8" fill="#0050f0"><tspan x="4.02" textLength="8.96" lengthAdjust="spacingAndGlyphs">I</tspan><tspan x="12.07" textLength="17" lengthAdjust="spacingAndGlyphs">R</tspan><tspan x="30.17" textLength="28.69" lengthAdjust="spacingAndGlyphs">M</tspan></text>
</g>
<g transform="translate(640,0)">
<path d="M6.9,5 L20,5 L23.75,8.75 L26.9,13.75 L28.75,20 L29.4,26.25 L29,32.5 L27.5,37.5 L25,42.5 L22.5,47.5 L21,51.25 L20.5,54 L6.9,54Z" fill="#0050f0"/>
<path d="M55.9,54 L55.9,7.6 L51.25,9.4 L47.5,12.5 L44.4,16.25 L42.25,20 L41,25 L40.25,29.4 L38.75,33.1 L35.6,36.9 L31.9,41.25 L28.1,45.6 L25.6,49.4 L24,54Z" fill="#0050f0"/>
<text y="71" font-size="21.8" fill="#0050f0"><tspan x="4.02" textLength="8.96" lengthAdjust="spacingAndGlyphs">I</tspan><tspan x="12.07" textLength="17" lengthAdjust="spacingAndGlyphs">R</tspan><tspan x="30.17" textLength="28.69" lengthAdjust="spacingAndGlyphs">M</tspan></text>
</g>
<text x="79.5" y="30" font-size="14.67" font-weight="bold" fill="#000">Température journalière minimale</text>
<text x="78.5" y="51.2" font-size="13" fill="#000">moyenne octobre 2025</text>
<text x="719.5" y="30" font-size="14.67" font-weight="bold" fill="#000">Ecart à la normale de la température journalière minimale</text>
<text x="718.5" y="51.2" font-size="13" fill="#000">moyenne octobre 2025 par rapport à la normale mensuelle 1991-2020</text>
<rect x="563" y="96" width="26" height="40" fill="#a50026"/>
<rect x="563" y="136" width="26" height="39" fill="#da372a"/>
<rect x="563" y="175" width="26" height="40" fill="#f67b4a"/>
<rect x="563" y="215" width="26" height="40" fill="#fdbf71"/>
<rect x="563" y="255" width="26" height="39" fill="#feeea5"/>
<rect x="563" y="294" width="26" height="40" fill="#eef8df"/>
<rect x="563" y="334" width="26" height="39" fill="#bde2ee"/>
<rect x="563" y="373" width="26" height="40" fill="#80b7d6"/>
<rect x="563" y="413" width="26" height="39" fill="#4a7bb7"/>
<rect x="563" y="452" width="26" height="40" fill="#313695"/>
<text x="601.3" y="102.0" font-size="14" fill="#000">10.5</text>
<text x="601.3" y="141.5" font-size="14" fill="#000">10</text>
<text x="601.3" y="181.0" font-size="14" fill="#000">9.5</text>
<text x="601.3" y="220.5" font-size="14" fill="#000">9</text>
<text x="601.3" y="260.0" font-size="14" fill="#000">8.5</text>
<text x="601.3" y="299.6" font-size="14" fill="#000">8</text>
<text x="601.3" y="339.1" font-size="14" fill="#000">7.5</text>
<text x="601.3" y="378.6" font-size="14" fill="#000">7</text>
<text x="601.3" y="418.1" font-size="14" fill="#000">6.5</text>
<text x="601.3" y="457.6" font-size="14" fill="#000">6</text>
<text x="601.3" y="497.1" font-size="14" fill="#000">5.5</text>
<text x="633.3" y="74" font-size="14.67" font-weight="bold" text-anchor="end" fill="#000">°C</text>
<rect x="1203" y="96" width="26" height="79" fill="#a50026"/>
<rect x="1203" y="175" width="26" height="80" fill="#de3f2e"/>
<rect x="1203" y="255" width="26" height="79" fill="#f98e52"/>
<rect x="1203" y="334" width="26" height="79" fill="#fed484"/>
<rect x="1203" y="413" width="26" height="79" fill="#ffffbf"/>
<text x="1241.3" y="102.0" font-size="14" fill="#000">3</text>
<text x="1241.3" y="181.0" font-size="14" fill="#000">2.5</text>
<text x="1241.3" y="260.0" font-size="14" fill="#000">2</text>
<text x="1241.3" y="339.1" font-size="14" fill="#000">1.5</text>
<text x="1241.3" y="418.1" font-size="14" fill="#000">1</text>
<text x="1241.3" y="497.1" font-size="14" fill="#000">0.5</text>
<text x="1273.3" y="74" font-size="14.67" font-weight="bold" text-anchor="end" fill="#000">Ecart °C</text>
</svg>
</body></html>
